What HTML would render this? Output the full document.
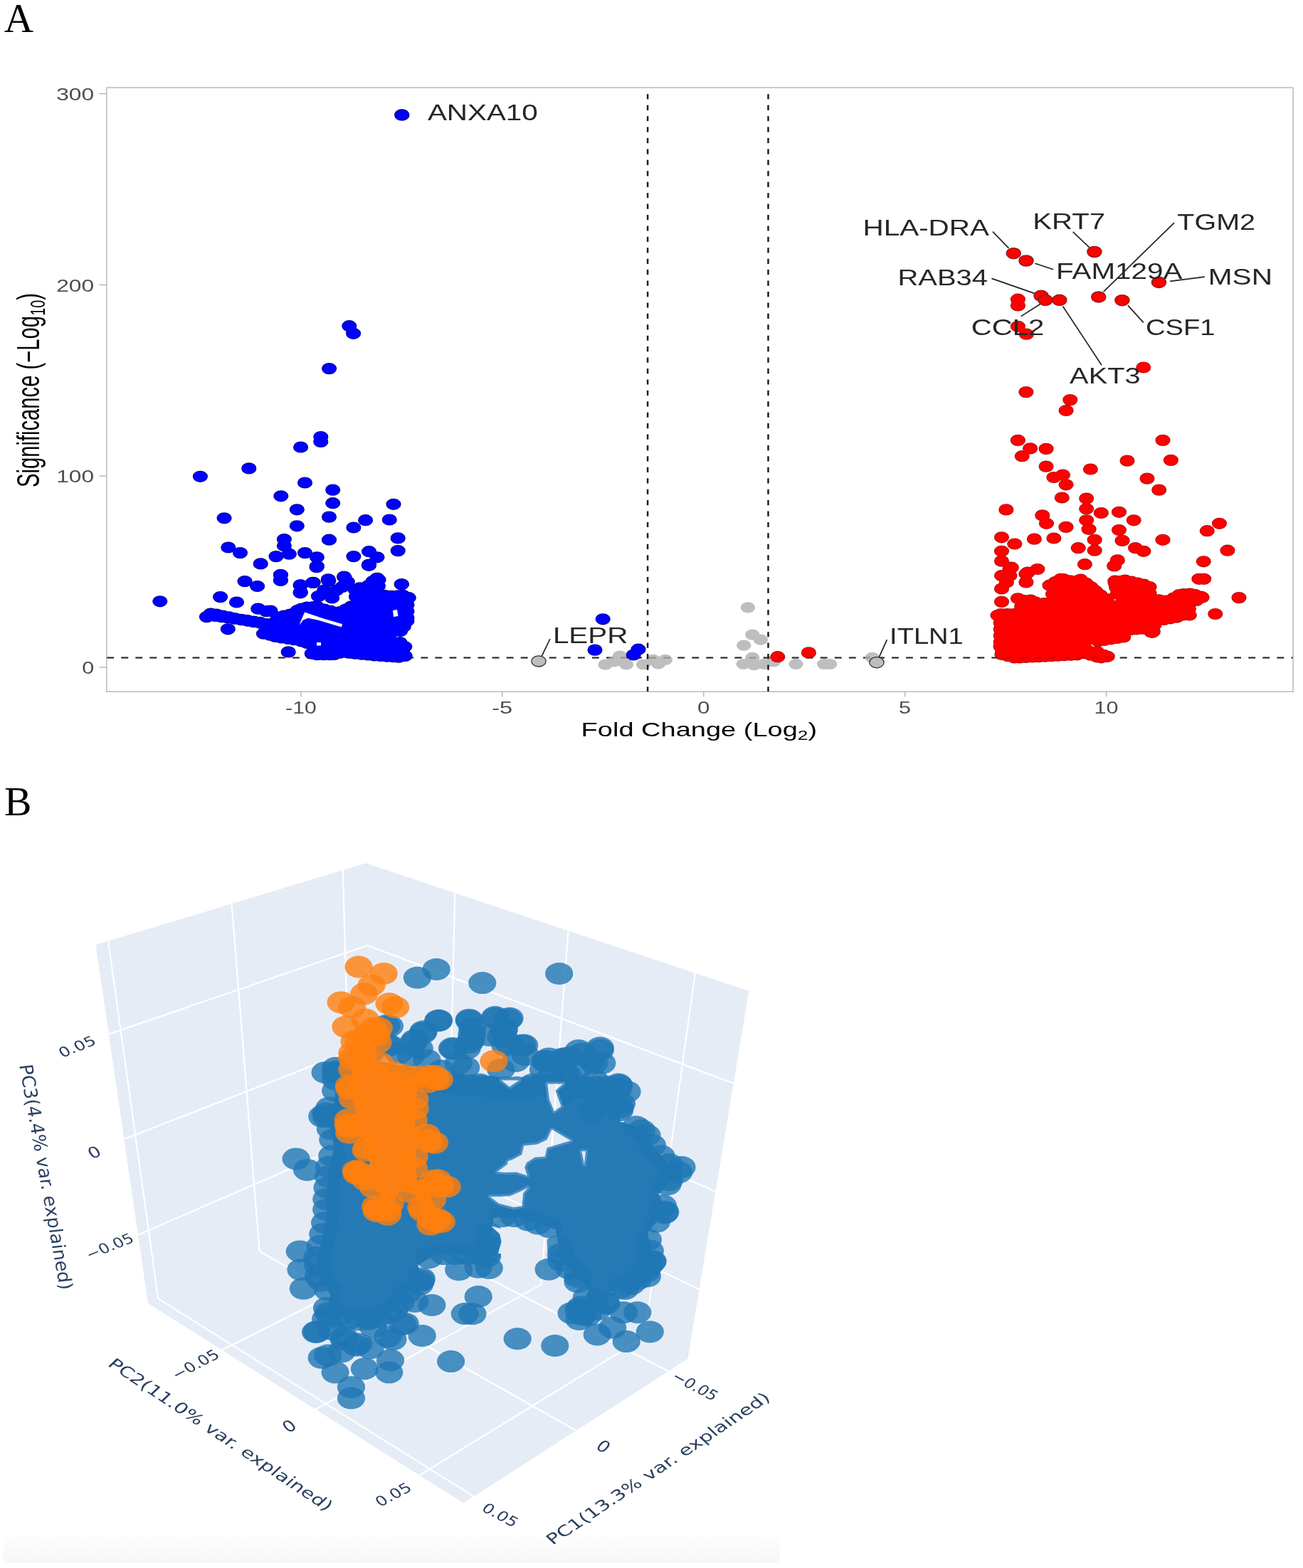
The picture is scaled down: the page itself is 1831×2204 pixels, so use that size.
<!DOCTYPE html>
<html><head><meta charset="utf-8"><title>Figure</title>
<style>html,body{margin:0;padding:0;background:#fff;}svg{display:block;}</style>
</head><body>
<svg width="1831" height="2204" viewBox="0 0 1831 2204">
<rect width="1831" height="2204" fill="#fff"/>
<text x="5.8" y="45.3" font-family="Liberation Serif" font-size="57.3" fill="#000">A</text>
<rect x="149.8" y="123.2" width="1667.3" height="849" fill="none" stroke="#b5b5b5" stroke-width="1.4"/>
<line x1="139.5" y1="131.6" x2="149.8" y2="131.6" stroke="#b5b5b5" stroke-width="1.4"/>
<text x="132.2" y="140.8" font-family="Liberation Sans" font-size="24.4" fill="#4d4d4d" text-anchor="end" textLength="53" lengthAdjust="spacingAndGlyphs">300</text>
<line x1="139.5" y1="400.4" x2="149.8" y2="400.4" stroke="#b5b5b5" stroke-width="1.4"/>
<text x="132.2" y="409.6" font-family="Liberation Sans" font-size="24.4" fill="#4d4d4d" text-anchor="end" textLength="53" lengthAdjust="spacingAndGlyphs">200</text>
<line x1="139.5" y1="669.2" x2="149.8" y2="669.2" stroke="#b5b5b5" stroke-width="1.4"/>
<text x="132.2" y="678.4" font-family="Liberation Sans" font-size="24.4" fill="#4d4d4d" text-anchor="end" textLength="53" lengthAdjust="spacingAndGlyphs">100</text>
<line x1="139.5" y1="938" x2="149.8" y2="938" stroke="#b5b5b5" stroke-width="1.4"/>
<text x="132.2" y="947.2" font-family="Liberation Sans" font-size="24.4" fill="#4d4d4d" text-anchor="end" textLength="17" lengthAdjust="spacingAndGlyphs">0</text>
<line x1="423" y1="972.2" x2="423" y2="979.5" stroke="#b5b5b5" stroke-width="1.4"/>
<text x="423" y="1002.6" font-family="Liberation Sans" font-size="24.4" fill="#4d4d4d" text-anchor="middle" textLength="43.5" lengthAdjust="spacingAndGlyphs">-10</text>
<line x1="705.7" y1="972.2" x2="705.7" y2="979.5" stroke="#b5b5b5" stroke-width="1.4"/>
<text x="705.7" y="1002.6" font-family="Liberation Sans" font-size="24.4" fill="#4d4d4d" text-anchor="middle" textLength="29" lengthAdjust="spacingAndGlyphs">-5</text>
<line x1="988.8" y1="972.2" x2="988.8" y2="979.5" stroke="#b5b5b5" stroke-width="1.4"/>
<text x="988.8" y="1002.6" font-family="Liberation Sans" font-size="24.4" fill="#4d4d4d" text-anchor="middle" textLength="17.5" lengthAdjust="spacingAndGlyphs">0</text>
<line x1="1271.6" y1="972.2" x2="1271.6" y2="979.5" stroke="#b5b5b5" stroke-width="1.4"/>
<text x="1271.6" y="1002.6" font-family="Liberation Sans" font-size="24.4" fill="#4d4d4d" text-anchor="middle" textLength="17" lengthAdjust="spacingAndGlyphs">5</text>
<line x1="1554.6" y1="972.2" x2="1554.6" y2="979.5" stroke="#b5b5b5" stroke-width="1.4"/>
<text x="1554.6" y="1002.6" font-family="Liberation Sans" font-size="24.4" fill="#4d4d4d" text-anchor="middle" textLength="34" lengthAdjust="spacingAndGlyphs">10</text>
<text x="816.6" y="1035.4" font-family="Liberation Sans" font-size="27.5" fill="#000" textLength="331.5" lengthAdjust="spacingAndGlyphs">Fold Change (Log<tspan font-size="19" dy="5">2</tspan><tspan dy="-5">)</tspan></text>
<g transform="translate(54.7,548.6) scale(1.407,1) rotate(-90)"><text x="0" y="0" font-family="Liberation Sans" font-size="31" fill="#000" text-anchor="middle" textLength="273" lengthAdjust="spacingAndGlyphs">Significance (−Log<tspan font-size="21" dy="6">10</tspan><tspan dy="-6">)</tspan></text></g>
<line x1="150.3" y1="924.5" x2="1816.6" y2="924.5" stroke="#262626" stroke-width="2.1" stroke-dasharray="9.8 10.25"/>
<g fill="#bebebe"><ellipse cx="862.7" cy="930" rx="10.2" ry="7.6"/><ellipse cx="850.6" cy="934.2" rx="10.2" ry="7.6"/><ellipse cx="871" cy="922" rx="10.2" ry="7.6"/><ellipse cx="917.7" cy="927.4" rx="10.2" ry="7.6"/><ellipse cx="934.9" cy="927.4" rx="10.2" ry="7.6"/><ellipse cx="904" cy="934" rx="10.2" ry="7.6"/><ellipse cx="925" cy="933" rx="10.2" ry="7.6"/><ellipse cx="880" cy="934" rx="10.2" ry="7.6"/><ellipse cx="1050.9" cy="853.9" rx="10.2" ry="7.6"/><ellipse cx="1057.3" cy="892.2" rx="10.2" ry="7.6"/><ellipse cx="1068.8" cy="899.1" rx="10.2" ry="7.6"/><ellipse cx="1045.2" cy="907.1" rx="10.2" ry="7.6"/><ellipse cx="1057.3" cy="924.3" rx="10.2" ry="7.6"/><ellipse cx="1044.7" cy="933.5" rx="10.2" ry="7.6"/><ellipse cx="1059.6" cy="934.6" rx="10.2" ry="7.6"/><ellipse cx="1073.4" cy="933.5" rx="10.2" ry="7.6"/><ellipse cx="1087.1" cy="930" rx="10.2" ry="7.6"/><ellipse cx="1118.5" cy="933.5" rx="10.2" ry="7.6"/><ellipse cx="1158.2" cy="933.5" rx="10.2" ry="7.6"/><ellipse cx="1166.2" cy="933.5" rx="10.2" ry="7.6"/><ellipse cx="1225.8" cy="924.3" rx="10.2" ry="7.6"/></g>
<g fill="none" stroke="#00007a" stroke-width="1.6"><ellipse cx="490.8" cy="458.2" rx="9.8" ry="7.3"/><ellipse cx="496.6" cy="468.8" rx="9.8" ry="7.3"/><ellipse cx="462.6" cy="518.1" rx="9.8" ry="7.3"/><ellipse cx="450.8" cy="614" rx="9.8" ry="7.3"/><ellipse cx="450.8" cy="621" rx="9.8" ry="7.3"/><ellipse cx="422.6" cy="628.5" rx="9.8" ry="7.3"/><ellipse cx="349.8" cy="658.4" rx="9.8" ry="7.3"/><ellipse cx="281.4" cy="669.8" rx="9.8" ry="7.3"/><ellipse cx="428.5" cy="678.5" rx="9.8" ry="7.3"/><ellipse cx="467.7" cy="688.6" rx="9.8" ry="7.3"/><ellipse cx="394.8" cy="697.3" rx="9.8" ry="7.3"/><ellipse cx="467.7" cy="707.2" rx="9.8" ry="7.3"/><ellipse cx="553" cy="708.8" rx="9.8" ry="7.3"/><ellipse cx="417.3" cy="716.3" rx="9.8" ry="7.3"/><ellipse cx="315.1" cy="728.3" rx="9.8" ry="7.3"/><ellipse cx="462.5" cy="726.6" rx="9.8" ry="7.3"/><ellipse cx="513.6" cy="731.2" rx="9.8" ry="7.3"/><ellipse cx="547.3" cy="730.5" rx="9.8" ry="7.3"/><ellipse cx="496.9" cy="741.5" rx="9.8" ry="7.3"/><ellipse cx="417.3" cy="739.3" rx="9.8" ry="7.3"/><ellipse cx="399.4" cy="758" rx="9.8" ry="7.3"/><ellipse cx="462.5" cy="758.7" rx="9.8" ry="7.3"/><ellipse cx="559.2" cy="756.4" rx="9.8" ry="7.3"/><ellipse cx="320.8" cy="769.5" rx="9.8" ry="7.3"/><ellipse cx="337.5" cy="777.1" rx="9.8" ry="7.3"/><ellipse cx="399.4" cy="767.2" rx="9.8" ry="7.3"/><ellipse cx="406.3" cy="778.7" rx="9.8" ry="7.3"/><ellipse cx="388" cy="782.1" rx="9.8" ry="7.3"/><ellipse cx="428.5" cy="777.1" rx="9.8" ry="7.3"/><ellipse cx="445.3" cy="783.3" rx="9.8" ry="7.3"/><ellipse cx="496.9" cy="782.1" rx="9.8" ry="7.3"/><ellipse cx="518.6" cy="775.2" rx="9.8" ry="7.3"/><ellipse cx="530" cy="783.3" rx="9.8" ry="7.3"/><ellipse cx="559.2" cy="774.1" rx="9.8" ry="7.3"/><ellipse cx="366.2" cy="792.4" rx="9.8" ry="7.3"/><ellipse cx="445.3" cy="795.9" rx="9.8" ry="7.3"/><ellipse cx="518.6" cy="793.6" rx="9.8" ry="7.3"/><ellipse cx="224.8" cy="845.3" rx="9.8" ry="7.3"/><ellipse cx="309.6" cy="839.1" rx="9.8" ry="7.3"/><ellipse cx="332.5" cy="846.5" rx="9.8" ry="7.3"/><ellipse cx="344" cy="817.1" rx="9.8" ry="7.3"/><ellipse cx="361.6" cy="824" rx="9.8" ry="7.3"/><ellipse cx="394.4" cy="808" rx="9.8" ry="7.3"/><ellipse cx="394.4" cy="816" rx="9.8" ry="7.3"/><ellipse cx="422.3" cy="822.4" rx="9.8" ry="7.3"/><ellipse cx="422.3" cy="832.3" rx="9.8" ry="7.3"/><ellipse cx="439.5" cy="819" rx="9.8" ry="7.3"/><ellipse cx="461.3" cy="814.4" rx="9.8" ry="7.3"/><ellipse cx="484.2" cy="812.1" rx="9.8" ry="7.3"/><ellipse cx="530.1" cy="813.2" rx="9.8" ry="7.3"/><ellipse cx="564.5" cy="821.3" rx="9.8" ry="7.3"/><ellipse cx="362.7" cy="855.6" rx="9.8" ry="7.3"/><ellipse cx="374.2" cy="859.1" rx="9.8" ry="7.3"/><ellipse cx="320.3" cy="884.3" rx="9.8" ry="7.3"/><ellipse cx="405.2" cy="916.4" rx="9.8" ry="7.3"/><ellipse cx="461.8" cy="816.5" rx="9.8" ry="7.3"/><ellipse cx="483.5" cy="810.5" rx="9.8" ry="7.3"/><ellipse cx="447.4" cy="838.1" rx="9.8" ry="7.3"/><ellipse cx="466.6" cy="840.5" rx="9.8" ry="7.3"/><ellipse cx="481.1" cy="824.9" rx="9.8" ry="7.3"/><ellipse cx="455.8" cy="829.7" rx="9.8" ry="7.3"/><ellipse cx="472.7" cy="829.7" rx="9.8" ry="7.3"/><ellipse cx="488.3" cy="817.7" rx="9.8" ry="7.3"/><ellipse cx="422.1" cy="822.5" rx="9.8" ry="7.3"/><ellipse cx="440.2" cy="818.9" rx="9.8" ry="7.3"/><ellipse cx="422.1" cy="833.3" rx="9.8" ry="7.3"/><ellipse cx="394.4" cy="808" rx="9.8" ry="7.3"/><ellipse cx="394.4" cy="815.3" rx="9.8" ry="7.3"/><ellipse cx="445" cy="797.2" rx="9.8" ry="7.3"/><ellipse cx="518.4" cy="794.8" rx="9.8" ry="7.3"/><ellipse cx="564.1" cy="821.3" rx="9.8" ry="7.3"/><ellipse cx="380" cy="858.6" rx="9.8" ry="7.3"/><ellipse cx="847.2" cy="870.3" rx="9.8" ry="7.3"/><ellipse cx="836" cy="913.6" rx="9.8" ry="7.3"/><ellipse cx="897" cy="912.7" rx="9.8" ry="7.3"/><ellipse cx="890.2" cy="920.5" rx="9.8" ry="7.3"/><ellipse cx="290.4" cy="867.1" rx="9.8" ry="7.3"/><ellipse cx="298.8" cy="864.1" rx="9.8" ry="7.3"/><ellipse cx="304.1" cy="863.6" rx="9.8" ry="7.3"/><ellipse cx="312.9" cy="865.5" rx="9.8" ry="7.3"/><ellipse cx="321.7" cy="867.4" rx="9.8" ry="7.3"/><ellipse cx="330.5" cy="869.4" rx="9.8" ry="7.3"/><ellipse cx="339.6" cy="871.1" rx="9.8" ry="7.3"/><ellipse cx="348.5" cy="872.6" rx="9.8" ry="7.3"/><ellipse cx="357.3" cy="874.2" rx="9.8" ry="7.3"/><ellipse cx="366.2" cy="875.7" rx="9.8" ry="7.3"/><ellipse cx="375.1" cy="877.2" rx="9.8" ry="7.3"/><ellipse cx="388.8" cy="872.2" rx="9.8" ry="7.3"/><ellipse cx="390.4" cy="867.6" rx="9.8" ry="7.3"/><ellipse cx="399.1" cy="865.5" rx="9.8" ry="7.3"/><ellipse cx="407.9" cy="863.5" rx="9.8" ry="7.3"/><ellipse cx="417.9" cy="858.2" rx="9.8" ry="7.3"/><ellipse cx="423.8" cy="855.6" rx="9.8" ry="7.3"/><ellipse cx="431.5" cy="853.6" rx="9.8" ry="7.3"/><ellipse cx="440.5" cy="853" rx="9.8" ry="7.3"/><ellipse cx="446.1" cy="853" rx="9.8" ry="7.3"/><ellipse cx="455.7" cy="856.6" rx="9.8" ry="7.3"/><ellipse cx="464.5" cy="858.8" rx="9.8" ry="7.3"/><ellipse cx="476.9" cy="860.4" rx="9.8" ry="7.3"/><ellipse cx="485.8" cy="856.6" rx="9.8" ry="7.3"/><ellipse cx="493.7" cy="852.3" rx="9.8" ry="7.3"/><ellipse cx="500.5" cy="838.7" rx="9.8" ry="7.3"/><ellipse cx="500" cy="829.7" rx="9.8" ry="7.3"/><ellipse cx="499.3" cy="829.2" rx="9.8" ry="7.3"/><ellipse cx="505.6" cy="826.3" rx="9.8" ry="7.3"/><ellipse cx="517.9" cy="823.1" rx="9.8" ry="7.3"/><ellipse cx="524.3" cy="816.8" rx="9.8" ry="7.3"/><ellipse cx="529.9" cy="812.9" rx="9.8" ry="7.3"/><ellipse cx="529.8" cy="814.2" rx="9.8" ry="7.3"/><ellipse cx="532.1" cy="815" rx="9.8" ry="7.3"/><ellipse cx="531.4" cy="823.9" rx="9.8" ry="7.3"/><ellipse cx="540.8" cy="837" rx="9.8" ry="7.3"/><ellipse cx="549.8" cy="837.9" rx="9.8" ry="7.3"/><ellipse cx="559.7" cy="837.3" rx="9.8" ry="7.3"/><ellipse cx="566" cy="836.8" rx="9.8" ry="7.3"/><ellipse cx="574.3" cy="840.2" rx="9.8" ry="7.3"/><ellipse cx="572" cy="841.3" rx="9.8" ry="7.3"/><ellipse cx="572" cy="850.3" rx="9.8" ry="7.3"/><ellipse cx="572" cy="859.3" rx="9.8" ry="7.3"/><ellipse cx="572" cy="868.3" rx="9.8" ry="7.3"/><ellipse cx="571.9" cy="873" rx="9.8" ry="7.3"/><ellipse cx="567.3" cy="880.7" rx="9.8" ry="7.3"/><ellipse cx="562.6" cy="886.9" rx="9.8" ry="7.3"/><ellipse cx="562" cy="903.1" rx="9.8" ry="7.3"/><ellipse cx="568.8" cy="909" rx="9.8" ry="7.3"/><ellipse cx="565.9" cy="912.7" rx="9.8" ry="7.3"/><ellipse cx="565.9" cy="921.7" rx="9.8" ry="7.3"/><ellipse cx="569.2" cy="922" rx="9.8" ry="7.3"/><ellipse cx="560.3" cy="923.6" rx="9.8" ry="7.3"/><ellipse cx="552.8" cy="923.2" rx="9.8" ry="7.3"/><ellipse cx="543.8" cy="922.6" rx="9.8" ry="7.3"/><ellipse cx="534.8" cy="922" rx="9.8" ry="7.3"/><ellipse cx="525.9" cy="921.4" rx="9.8" ry="7.3"/><ellipse cx="517.1" cy="920.5" rx="9.8" ry="7.3"/><ellipse cx="508.2" cy="919.6" rx="9.8" ry="7.3"/><ellipse cx="499.2" cy="918.7" rx="9.8" ry="7.3"/><ellipse cx="490.3" cy="917.7" rx="9.8" ry="7.3"/><ellipse cx="481.3" cy="916.8" rx="9.8" ry="7.3"/><ellipse cx="469.6" cy="919.9" rx="9.8" ry="7.3"/><ellipse cx="463.6" cy="920.2" rx="9.8" ry="7.3"/><ellipse cx="454.6" cy="920.2" rx="9.8" ry="7.3"/><ellipse cx="445.6" cy="920.2" rx="9.8" ry="7.3"/><ellipse cx="441.4" cy="917.2" rx="9.8" ry="7.3"/><ellipse cx="438.2" cy="918.6" rx="9.8" ry="7.3"/><ellipse cx="431.7" cy="904" rx="9.8" ry="7.3"/><ellipse cx="423.1" cy="901.3" rx="9.8" ry="7.3"/><ellipse cx="413.4" cy="899.1" rx="9.8" ry="7.3"/><ellipse cx="404.5" cy="897.8" rx="9.8" ry="7.3"/><ellipse cx="395.6" cy="896.5" rx="9.8" ry="7.3"/><ellipse cx="387.1" cy="894.9" rx="9.8" ry="7.3"/><ellipse cx="379.8" cy="892.6" rx="9.8" ry="7.3"/><ellipse cx="372.7" cy="888.5" rx="9.8" ry="7.3"/><ellipse cx="370.5" cy="890.7" rx="9.8" ry="7.3"/><ellipse cx="365.1" cy="874.9" rx="9.8" ry="7.3"/><ellipse cx="356.2" cy="873.6" rx="9.8" ry="7.3"/><ellipse cx="347.3" cy="872.2" rx="9.8" ry="7.3"/><ellipse cx="338.4" cy="870.8" rx="9.8" ry="7.3"/><ellipse cx="329.4" cy="869.6" rx="9.8" ry="7.3"/><ellipse cx="320.5" cy="868.4" rx="9.8" ry="7.3"/><ellipse cx="311.5" cy="867.2" rx="9.8" ry="7.3"/><ellipse cx="302.6" cy="866" rx="9.8" ry="7.3"/><ellipse cx="296.1" cy="862.7" rx="9.8" ry="7.3"/><ellipse cx="296.1" cy="862.8" rx="9.8" ry="7.3"/></g>
<g fill="#0000ff"><polygon points="294.2,865.6 301.3,862.6 336.4,870.6 382.3,877.7 390.8,867.6 410.3,863.1 418.7,857.1 431.4,853.6 446.2,852.4 452.5,855.9 474.3,860.8 482.6,858.3 499.6,849 498.4,829.6 502.4,827 515.4,824.5 524.7,815.8 529.7,811.4 533,817 533.4,835.5 550.8,837.9 566.8,836.7 573.8,839.8 572.4,872.1 566.7,882 556.3,896.4 566.8,907.4 568.3,922.7 560.2,923.8 524.9,921.4 477.6,916.6 470.1,920.2 444.4,920.2 437.5,914.6 437.9,906.4 417.4,899.7 393,896.1 381.8,893.7 377.1,891.3 369.7,887.1 371.1,876.9 336,870.5 302.6,865.9 294.4,862"/><ellipse cx="490.8" cy="458.2" rx="9.8" ry="7.3"/><ellipse cx="496.6" cy="468.8" rx="9.8" ry="7.3"/><ellipse cx="462.6" cy="518.1" rx="9.8" ry="7.3"/><ellipse cx="450.8" cy="614" rx="9.8" ry="7.3"/><ellipse cx="450.8" cy="621" rx="9.8" ry="7.3"/><ellipse cx="422.6" cy="628.5" rx="9.8" ry="7.3"/><ellipse cx="349.8" cy="658.4" rx="9.8" ry="7.3"/><ellipse cx="281.4" cy="669.8" rx="9.8" ry="7.3"/><ellipse cx="428.5" cy="678.5" rx="9.8" ry="7.3"/><ellipse cx="467.7" cy="688.6" rx="9.8" ry="7.3"/><ellipse cx="394.8" cy="697.3" rx="9.8" ry="7.3"/><ellipse cx="467.7" cy="707.2" rx="9.8" ry="7.3"/><ellipse cx="553" cy="708.8" rx="9.8" ry="7.3"/><ellipse cx="417.3" cy="716.3" rx="9.8" ry="7.3"/><ellipse cx="315.1" cy="728.3" rx="9.8" ry="7.3"/><ellipse cx="462.5" cy="726.6" rx="9.8" ry="7.3"/><ellipse cx="513.6" cy="731.2" rx="9.8" ry="7.3"/><ellipse cx="547.3" cy="730.5" rx="9.8" ry="7.3"/><ellipse cx="496.9" cy="741.5" rx="9.8" ry="7.3"/><ellipse cx="417.3" cy="739.3" rx="9.8" ry="7.3"/><ellipse cx="399.4" cy="758" rx="9.8" ry="7.3"/><ellipse cx="462.5" cy="758.7" rx="9.8" ry="7.3"/><ellipse cx="559.2" cy="756.4" rx="9.8" ry="7.3"/><ellipse cx="320.8" cy="769.5" rx="9.8" ry="7.3"/><ellipse cx="337.5" cy="777.1" rx="9.8" ry="7.3"/><ellipse cx="399.4" cy="767.2" rx="9.8" ry="7.3"/><ellipse cx="406.3" cy="778.7" rx="9.8" ry="7.3"/><ellipse cx="388" cy="782.1" rx="9.8" ry="7.3"/><ellipse cx="428.5" cy="777.1" rx="9.8" ry="7.3"/><ellipse cx="445.3" cy="783.3" rx="9.8" ry="7.3"/><ellipse cx="496.9" cy="782.1" rx="9.8" ry="7.3"/><ellipse cx="518.6" cy="775.2" rx="9.8" ry="7.3"/><ellipse cx="530" cy="783.3" rx="9.8" ry="7.3"/><ellipse cx="559.2" cy="774.1" rx="9.8" ry="7.3"/><ellipse cx="366.2" cy="792.4" rx="9.8" ry="7.3"/><ellipse cx="445.3" cy="795.9" rx="9.8" ry="7.3"/><ellipse cx="518.6" cy="793.6" rx="9.8" ry="7.3"/><ellipse cx="224.8" cy="845.3" rx="9.8" ry="7.3"/><ellipse cx="309.6" cy="839.1" rx="9.8" ry="7.3"/><ellipse cx="332.5" cy="846.5" rx="9.8" ry="7.3"/><ellipse cx="344" cy="817.1" rx="9.8" ry="7.3"/><ellipse cx="361.6" cy="824" rx="9.8" ry="7.3"/><ellipse cx="394.4" cy="808" rx="9.8" ry="7.3"/><ellipse cx="394.4" cy="816" rx="9.8" ry="7.3"/><ellipse cx="422.3" cy="822.4" rx="9.8" ry="7.3"/><ellipse cx="422.3" cy="832.3" rx="9.8" ry="7.3"/><ellipse cx="439.5" cy="819" rx="9.8" ry="7.3"/><ellipse cx="461.3" cy="814.4" rx="9.8" ry="7.3"/><ellipse cx="484.2" cy="812.1" rx="9.8" ry="7.3"/><ellipse cx="530.1" cy="813.2" rx="9.8" ry="7.3"/><ellipse cx="564.5" cy="821.3" rx="9.8" ry="7.3"/><ellipse cx="362.7" cy="855.6" rx="9.8" ry="7.3"/><ellipse cx="374.2" cy="859.1" rx="9.8" ry="7.3"/><ellipse cx="320.3" cy="884.3" rx="9.8" ry="7.3"/><ellipse cx="405.2" cy="916.4" rx="9.8" ry="7.3"/><ellipse cx="461.8" cy="816.5" rx="9.8" ry="7.3"/><ellipse cx="483.5" cy="810.5" rx="9.8" ry="7.3"/><ellipse cx="447.4" cy="838.1" rx="9.8" ry="7.3"/><ellipse cx="466.6" cy="840.5" rx="9.8" ry="7.3"/><ellipse cx="481.1" cy="824.9" rx="9.8" ry="7.3"/><ellipse cx="455.8" cy="829.7" rx="9.8" ry="7.3"/><ellipse cx="472.7" cy="829.7" rx="9.8" ry="7.3"/><ellipse cx="488.3" cy="817.7" rx="9.8" ry="7.3"/><ellipse cx="422.1" cy="822.5" rx="9.8" ry="7.3"/><ellipse cx="440.2" cy="818.9" rx="9.8" ry="7.3"/><ellipse cx="422.1" cy="833.3" rx="9.8" ry="7.3"/><ellipse cx="394.4" cy="808" rx="9.8" ry="7.3"/><ellipse cx="394.4" cy="815.3" rx="9.8" ry="7.3"/><ellipse cx="445" cy="797.2" rx="9.8" ry="7.3"/><ellipse cx="518.4" cy="794.8" rx="9.8" ry="7.3"/><ellipse cx="564.1" cy="821.3" rx="9.8" ry="7.3"/><ellipse cx="380" cy="858.6" rx="9.8" ry="7.3"/><ellipse cx="847.2" cy="870.3" rx="9.8" ry="7.3"/><ellipse cx="836" cy="913.6" rx="9.8" ry="7.3"/><ellipse cx="897" cy="912.7" rx="9.8" ry="7.3"/><ellipse cx="890.2" cy="920.5" rx="9.8" ry="7.3"/><ellipse cx="290.4" cy="867.1" rx="9.8" ry="7.3"/><ellipse cx="298.8" cy="864.1" rx="9.8" ry="7.3"/><ellipse cx="304.1" cy="863.6" rx="9.8" ry="7.3"/><ellipse cx="312.9" cy="865.5" rx="9.8" ry="7.3"/><ellipse cx="321.7" cy="867.4" rx="9.8" ry="7.3"/><ellipse cx="330.5" cy="869.4" rx="9.8" ry="7.3"/><ellipse cx="339.6" cy="871.1" rx="9.8" ry="7.3"/><ellipse cx="348.5" cy="872.6" rx="9.8" ry="7.3"/><ellipse cx="357.3" cy="874.2" rx="9.8" ry="7.3"/><ellipse cx="366.2" cy="875.7" rx="9.8" ry="7.3"/><ellipse cx="375.1" cy="877.2" rx="9.8" ry="7.3"/><ellipse cx="388.8" cy="872.2" rx="9.8" ry="7.3"/><ellipse cx="390.4" cy="867.6" rx="9.8" ry="7.3"/><ellipse cx="399.1" cy="865.5" rx="9.8" ry="7.3"/><ellipse cx="407.9" cy="863.5" rx="9.8" ry="7.3"/><ellipse cx="417.9" cy="858.2" rx="9.8" ry="7.3"/><ellipse cx="423.8" cy="855.6" rx="9.8" ry="7.3"/><ellipse cx="431.5" cy="853.6" rx="9.8" ry="7.3"/><ellipse cx="440.5" cy="853" rx="9.8" ry="7.3"/><ellipse cx="446.1" cy="853" rx="9.8" ry="7.3"/><ellipse cx="455.7" cy="856.6" rx="9.8" ry="7.3"/><ellipse cx="464.5" cy="858.8" rx="9.8" ry="7.3"/><ellipse cx="476.9" cy="860.4" rx="9.8" ry="7.3"/><ellipse cx="485.8" cy="856.6" rx="9.8" ry="7.3"/><ellipse cx="493.7" cy="852.3" rx="9.8" ry="7.3"/><ellipse cx="500.5" cy="838.7" rx="9.8" ry="7.3"/><ellipse cx="500" cy="829.7" rx="9.8" ry="7.3"/><ellipse cx="499.3" cy="829.2" rx="9.8" ry="7.3"/><ellipse cx="505.6" cy="826.3" rx="9.8" ry="7.3"/><ellipse cx="517.9" cy="823.1" rx="9.8" ry="7.3"/><ellipse cx="524.3" cy="816.8" rx="9.8" ry="7.3"/><ellipse cx="529.9" cy="812.9" rx="9.8" ry="7.3"/><ellipse cx="529.8" cy="814.2" rx="9.8" ry="7.3"/><ellipse cx="532.1" cy="815" rx="9.8" ry="7.3"/><ellipse cx="531.4" cy="823.9" rx="9.8" ry="7.3"/><ellipse cx="540.8" cy="837" rx="9.8" ry="7.3"/><ellipse cx="549.8" cy="837.9" rx="9.8" ry="7.3"/><ellipse cx="559.7" cy="837.3" rx="9.8" ry="7.3"/><ellipse cx="566" cy="836.8" rx="9.8" ry="7.3"/><ellipse cx="574.3" cy="840.2" rx="9.8" ry="7.3"/><ellipse cx="572" cy="841.3" rx="9.8" ry="7.3"/><ellipse cx="572" cy="850.3" rx="9.8" ry="7.3"/><ellipse cx="572" cy="859.3" rx="9.8" ry="7.3"/><ellipse cx="572" cy="868.3" rx="9.8" ry="7.3"/><ellipse cx="571.9" cy="873" rx="9.8" ry="7.3"/><ellipse cx="567.3" cy="880.7" rx="9.8" ry="7.3"/><ellipse cx="562.6" cy="886.9" rx="9.8" ry="7.3"/><ellipse cx="562" cy="903.1" rx="9.8" ry="7.3"/><ellipse cx="568.8" cy="909" rx="9.8" ry="7.3"/><ellipse cx="565.9" cy="912.7" rx="9.8" ry="7.3"/><ellipse cx="565.9" cy="921.7" rx="9.8" ry="7.3"/><ellipse cx="569.2" cy="922" rx="9.8" ry="7.3"/><ellipse cx="560.3" cy="923.6" rx="9.8" ry="7.3"/><ellipse cx="552.8" cy="923.2" rx="9.8" ry="7.3"/><ellipse cx="543.8" cy="922.6" rx="9.8" ry="7.3"/><ellipse cx="534.8" cy="922" rx="9.8" ry="7.3"/><ellipse cx="525.9" cy="921.4" rx="9.8" ry="7.3"/><ellipse cx="517.1" cy="920.5" rx="9.8" ry="7.3"/><ellipse cx="508.2" cy="919.6" rx="9.8" ry="7.3"/><ellipse cx="499.2" cy="918.7" rx="9.8" ry="7.3"/><ellipse cx="490.3" cy="917.7" rx="9.8" ry="7.3"/><ellipse cx="481.3" cy="916.8" rx="9.8" ry="7.3"/><ellipse cx="469.6" cy="919.9" rx="9.8" ry="7.3"/><ellipse cx="463.6" cy="920.2" rx="9.8" ry="7.3"/><ellipse cx="454.6" cy="920.2" rx="9.8" ry="7.3"/><ellipse cx="445.6" cy="920.2" rx="9.8" ry="7.3"/><ellipse cx="441.4" cy="917.2" rx="9.8" ry="7.3"/><ellipse cx="438.2" cy="918.6" rx="9.8" ry="7.3"/><ellipse cx="431.7" cy="904" rx="9.8" ry="7.3"/><ellipse cx="423.1" cy="901.3" rx="9.8" ry="7.3"/><ellipse cx="413.4" cy="899.1" rx="9.8" ry="7.3"/><ellipse cx="404.5" cy="897.8" rx="9.8" ry="7.3"/><ellipse cx="395.6" cy="896.5" rx="9.8" ry="7.3"/><ellipse cx="387.1" cy="894.9" rx="9.8" ry="7.3"/><ellipse cx="379.8" cy="892.6" rx="9.8" ry="7.3"/><ellipse cx="372.7" cy="888.5" rx="9.8" ry="7.3"/><ellipse cx="370.5" cy="890.7" rx="9.8" ry="7.3"/><ellipse cx="365.1" cy="874.9" rx="9.8" ry="7.3"/><ellipse cx="356.2" cy="873.6" rx="9.8" ry="7.3"/><ellipse cx="347.3" cy="872.2" rx="9.8" ry="7.3"/><ellipse cx="338.4" cy="870.8" rx="9.8" ry="7.3"/><ellipse cx="329.4" cy="869.6" rx="9.8" ry="7.3"/><ellipse cx="320.5" cy="868.4" rx="9.8" ry="7.3"/><ellipse cx="311.5" cy="867.2" rx="9.8" ry="7.3"/><ellipse cx="302.6" cy="866" rx="9.8" ry="7.3"/><ellipse cx="296.1" cy="862.7" rx="9.8" ry="7.3"/><ellipse cx="296.1" cy="862.8" rx="9.8" ry="7.3"/></g>
<g fill="#fff"><polygon points="428.1,860.4 454.6,869.4 481.1,877.2 479.9,881.5 447.4,871.8 432.9,868.8 425.7,871.8 420.9,878.4 422.1,874.2"/><polygon points="445,903 451,903 451,907.5 445,907.5"/><polygon points="552,858 558,857 559.5,866 553,867"/></g>
<g fill="none" stroke="#a01010" stroke-width="1.6"><ellipse cx="1430.4" cy="420.7" rx="9.8" ry="7.3"/><ellipse cx="1430.4" cy="429.4" rx="9.8" ry="7.3"/><ellipse cx="1430.4" cy="458.8" rx="9.8" ry="7.3"/><ellipse cx="1442.4" cy="469.7" rx="9.8" ry="7.3"/><ellipse cx="1606.8" cy="516.5" rx="9.8" ry="7.3"/><ellipse cx="1441.9" cy="551.1" rx="9.8" ry="7.3"/><ellipse cx="1503.8" cy="562.1" rx="9.8" ry="7.3"/><ellipse cx="1498.1" cy="577" rx="9.8" ry="7.3"/><ellipse cx="1430.4" cy="618.9" rx="9.8" ry="7.3"/><ellipse cx="1447.6" cy="630.4" rx="9.8" ry="7.3"/><ellipse cx="1470.1" cy="630.9" rx="9.8" ry="7.3"/><ellipse cx="1436.2" cy="641.2" rx="9.8" ry="7.3"/><ellipse cx="1470.1" cy="655.6" rx="9.8" ry="7.3"/><ellipse cx="1480.9" cy="671" rx="9.8" ry="7.3"/><ellipse cx="1493.5" cy="667.5" rx="9.8" ry="7.3"/><ellipse cx="1498.1" cy="681.3" rx="9.8" ry="7.3"/><ellipse cx="1532.4" cy="659.5" rx="9.8" ry="7.3"/><ellipse cx="1584" cy="647.6" rx="9.8" ry="7.3"/><ellipse cx="1634" cy="618.9" rx="9.8" ry="7.3"/><ellipse cx="1645.4" cy="646.9" rx="9.8" ry="7.3"/><ellipse cx="1612" cy="672.6" rx="9.8" ry="7.3"/><ellipse cx="1628.7" cy="688.6" rx="9.8" ry="7.3"/><ellipse cx="1492.3" cy="699.5" rx="9.8" ry="7.3"/><ellipse cx="1526.7" cy="700.6" rx="9.8" ry="7.3"/><ellipse cx="1413.9" cy="716.4" rx="9.8" ry="7.3"/><ellipse cx="1526.7" cy="715.2" rx="9.8" ry="7.3"/><ellipse cx="1547.3" cy="721" rx="9.8" ry="7.3"/><ellipse cx="1572.5" cy="719.8" rx="9.8" ry="7.3"/><ellipse cx="1593.2" cy="731.3" rx="9.8" ry="7.3"/><ellipse cx="1464.8" cy="724.4" rx="9.8" ry="7.3"/><ellipse cx="1470.5" cy="735.8" rx="9.8" ry="7.3"/><ellipse cx="1498" cy="740.9" rx="9.8" ry="7.3"/><ellipse cx="1526.7" cy="731.3" rx="9.8" ry="7.3"/><ellipse cx="1530.1" cy="743.9" rx="9.8" ry="7.3"/><ellipse cx="1572.5" cy="745" rx="9.8" ry="7.3"/><ellipse cx="1713.5" cy="735.8" rx="9.8" ry="7.3"/><ellipse cx="1696.3" cy="746.2" rx="9.8" ry="7.3"/><ellipse cx="1407.5" cy="755.3" rx="9.8" ry="7.3"/><ellipse cx="1425.8" cy="764.5" rx="9.8" ry="7.3"/><ellipse cx="1453.4" cy="757.6" rx="9.8" ry="7.3"/><ellipse cx="1480.9" cy="756.5" rx="9.8" ry="7.3"/><ellipse cx="1538.2" cy="758.8" rx="9.8" ry="7.3"/><ellipse cx="1577.1" cy="759.9" rx="9.8" ry="7.3"/><ellipse cx="1634" cy="758.8" rx="9.8" ry="7.3"/><ellipse cx="1595.5" cy="770.2" rx="9.8" ry="7.3"/><ellipse cx="1606.9" cy="774.8" rx="9.8" ry="7.3"/><ellipse cx="1515.2" cy="770.2" rx="9.8" ry="7.3"/><ellipse cx="1538.2" cy="773.7" rx="9.8" ry="7.3"/><ellipse cx="1725" cy="773.7" rx="9.8" ry="7.3"/><ellipse cx="1407.5" cy="774.8" rx="9.8" ry="7.3"/><ellipse cx="1407.5" cy="788.6" rx="9.8" ry="7.3"/><ellipse cx="1570.3" cy="787.4" rx="9.8" ry="7.3"/><ellipse cx="1565.7" cy="795.4" rx="9.8" ry="7.3"/><ellipse cx="1524.4" cy="793.2" rx="9.8" ry="7.3"/><ellipse cx="1691.3" cy="789.3" rx="9.8" ry="7.3"/><ellipse cx="1419" cy="800" rx="9.8" ry="7.3"/><ellipse cx="1457.9" cy="800" rx="9.8" ry="7.3"/><ellipse cx="1441.9" cy="806.9" rx="9.8" ry="7.3"/><ellipse cx="1684.9" cy="813.8" rx="9.8" ry="7.3"/><ellipse cx="1691.7" cy="813.8" rx="9.8" ry="7.3"/><ellipse cx="1741" cy="840.1" rx="9.8" ry="7.3"/><ellipse cx="1707.8" cy="863" rx="9.8" ry="7.3"/><ellipse cx="1618.4" cy="888.3" rx="9.8" ry="7.3"/><ellipse cx="1549.6" cy="921.5" rx="9.8" ry="7.3"/><ellipse cx="1092.8" cy="923.2" rx="9.8" ry="7.3"/><ellipse cx="1136.4" cy="917.4" rx="9.8" ry="7.3"/><ellipse cx="1407.5" cy="809.2" rx="9.8" ry="7.3"/><ellipse cx="1414.4" cy="818.4" rx="9.8" ry="7.3"/><ellipse cx="1407.5" cy="827.5" rx="9.8" ry="7.3"/><ellipse cx="1407.5" cy="845.9" rx="9.8" ry="7.3"/><ellipse cx="1421.3" cy="797.7" rx="9.8" ry="7.3"/><ellipse cx="1419" cy="809.2" rx="9.8" ry="7.3"/><ellipse cx="1444.2" cy="804.6" rx="9.8" ry="7.3"/><ellipse cx="1441.9" cy="818.4" rx="9.8" ry="7.3"/><ellipse cx="1430.4" cy="841.3" rx="9.8" ry="7.3"/><ellipse cx="1448.8" cy="845.9" rx="9.8" ry="7.3"/><ellipse cx="1467.1" cy="848.2" rx="9.8" ry="7.3"/><ellipse cx="1402" cy="865" rx="9.8" ry="7.3"/><ellipse cx="1406.6" cy="863.1" rx="9.8" ry="7.3"/><ellipse cx="1415.6" cy="863.1" rx="9.8" ry="7.3"/><ellipse cx="1424.6" cy="863.1" rx="9.8" ry="7.3"/><ellipse cx="1435.7" cy="852.7" rx="9.8" ry="7.3"/><ellipse cx="1438.9" cy="844.3" rx="9.8" ry="7.3"/><ellipse cx="1439.3" cy="844.4" rx="9.8" ry="7.3"/><ellipse cx="1448.3" cy="843.7" rx="9.8" ry="7.3"/><ellipse cx="1454.4" cy="846.3" rx="9.8" ry="7.3"/><ellipse cx="1462.9" cy="849.2" rx="9.8" ry="7.3"/><ellipse cx="1479.5" cy="844" rx="9.8" ry="7.3"/><ellipse cx="1479.5" cy="835" rx="9.8" ry="7.3"/><ellipse cx="1479.5" cy="826" rx="9.8" ry="7.3"/><ellipse cx="1475" cy="822.7" rx="9.8" ry="7.3"/><ellipse cx="1482.8" cy="818.2" rx="9.8" ry="7.3"/><ellipse cx="1490.7" cy="813.8" rx="9.8" ry="7.3"/><ellipse cx="1494.5" cy="814.2" rx="9.8" ry="7.3"/><ellipse cx="1503.3" cy="816.3" rx="9.8" ry="7.3"/><ellipse cx="1514.5" cy="816.4" rx="9.8" ry="7.3"/><ellipse cx="1518.5" cy="814.7" rx="9.8" ry="7.3"/><ellipse cx="1525.9" cy="819.9" rx="9.8" ry="7.3"/><ellipse cx="1533.2" cy="825.2" rx="9.8" ry="7.3"/><ellipse cx="1539.5" cy="830.7" rx="9.8" ry="7.3"/><ellipse cx="1546.4" cy="836.6" rx="9.8" ry="7.3"/><ellipse cx="1555.4" cy="842" rx="9.8" ry="7.3"/><ellipse cx="1570.4" cy="834.3" rx="9.8" ry="7.3"/><ellipse cx="1568.6" cy="825.5" rx="9.8" ry="7.3"/><ellipse cx="1566.8" cy="816.7" rx="9.8" ry="7.3"/><ellipse cx="1567.2" cy="819.6" rx="9.8" ry="7.3"/><ellipse cx="1575.7" cy="816.8" rx="9.8" ry="7.3"/><ellipse cx="1581.1" cy="815.7" rx="9.8" ry="7.3"/><ellipse cx="1589.9" cy="817.7" rx="9.8" ry="7.3"/><ellipse cx="1598.6" cy="819.7" rx="9.8" ry="7.3"/><ellipse cx="1607.4" cy="821.7" rx="9.8" ry="7.3"/><ellipse cx="1614" cy="825.5" rx="9.8" ry="7.3"/><ellipse cx="1615.1" cy="825" rx="9.8" ry="7.3"/><ellipse cx="1615.1" cy="834" rx="9.8" ry="7.3"/><ellipse cx="1628.4" cy="843.4" rx="9.8" ry="7.3"/><ellipse cx="1637.4" cy="844.7" rx="9.8" ry="7.3"/><ellipse cx="1649.3" cy="840.5" rx="9.8" ry="7.3"/><ellipse cx="1657.1" cy="836" rx="9.8" ry="7.3"/><ellipse cx="1663.1" cy="835.2" rx="9.8" ry="7.3"/><ellipse cx="1672" cy="834.7" rx="9.8" ry="7.3"/><ellipse cx="1678.7" cy="835.9" rx="9.8" ry="7.3"/><ellipse cx="1687.3" cy="838.6" rx="9.8" ry="7.3"/><ellipse cx="1686.8" cy="839.1" rx="9.8" ry="7.3"/><ellipse cx="1689.1" cy="839.6" rx="9.8" ry="7.3"/><ellipse cx="1681.1" cy="843.9" rx="9.8" ry="7.3"/><ellipse cx="1670.4" cy="855.6" rx="9.8" ry="7.3"/><ellipse cx="1671.3" cy="864.5" rx="9.8" ry="7.3"/><ellipse cx="1669" cy="861.5" rx="9.8" ry="7.3"/><ellipse cx="1660.6" cy="864.7" rx="9.8" ry="7.3"/><ellipse cx="1653.2" cy="867.7" rx="9.8" ry="7.3"/><ellipse cx="1644.4" cy="869.3" rx="9.8" ry="7.3"/><ellipse cx="1635.5" cy="870.9" rx="9.8" ry="7.3"/><ellipse cx="1621.8" cy="878.8" rx="9.8" ry="7.3"/><ellipse cx="1620.3" cy="887.7" rx="9.8" ry="7.3"/><ellipse cx="1619.2" cy="888.8" rx="9.8" ry="7.3"/><ellipse cx="1617.4" cy="888.2" rx="9.8" ry="7.3"/><ellipse cx="1605.8" cy="883.6" rx="9.8" ry="7.3"/><ellipse cx="1596.8" cy="884.4" rx="9.8" ry="7.3"/><ellipse cx="1587.9" cy="885.2" rx="9.8" ry="7.3"/><ellipse cx="1573.9" cy="894" rx="9.8" ry="7.3"/><ellipse cx="1578.7" cy="895.4" rx="9.8" ry="7.3"/><ellipse cx="1569.8" cy="896.9" rx="9.8" ry="7.3"/><ellipse cx="1560.9" cy="898.3" rx="9.8" ry="7.3"/><ellipse cx="1552" cy="899.8" rx="9.8" ry="7.3"/><ellipse cx="1543.1" cy="901.3" rx="9.8" ry="7.3"/><ellipse cx="1541.5" cy="916" rx="9.8" ry="7.3"/><ellipse cx="1549.2" cy="920.8" rx="9.8" ry="7.3"/><ellipse cx="1551" cy="920.9" rx="9.8" ry="7.3"/><ellipse cx="1556.3" cy="922.8" rx="9.8" ry="7.3"/><ellipse cx="1547.5" cy="924.3" rx="9.8" ry="7.3"/><ellipse cx="1541.5" cy="923.3" rx="9.8" ry="7.3"/><ellipse cx="1532.8" cy="920.7" rx="9.8" ry="7.3"/><ellipse cx="1524.2" cy="918.1" rx="9.8" ry="7.3"/><ellipse cx="1513.6" cy="920.3" rx="9.8" ry="7.3"/><ellipse cx="1504.6" cy="920.8" rx="9.8" ry="7.3"/><ellipse cx="1495.6" cy="921.2" rx="9.8" ry="7.3"/><ellipse cx="1486.6" cy="921.7" rx="9.8" ry="7.3"/><ellipse cx="1477.6" cy="922.2" rx="9.8" ry="7.3"/><ellipse cx="1468.6" cy="922.6" rx="9.8" ry="7.3"/><ellipse cx="1459.6" cy="923.1" rx="9.8" ry="7.3"/><ellipse cx="1450.7" cy="923.5" rx="9.8" ry="7.3"/><ellipse cx="1441.7" cy="924" rx="9.8" ry="7.3"/><ellipse cx="1432.7" cy="924.5" rx="9.8" ry="7.3"/><ellipse cx="1425.5" cy="924.4" rx="9.8" ry="7.3"/><ellipse cx="1416.8" cy="922.2" rx="9.8" ry="7.3"/><ellipse cx="1408" cy="920" rx="9.8" ry="7.3"/><ellipse cx="1408.7" cy="917.7" rx="9.8" ry="7.3"/><ellipse cx="1406.1" cy="909.1" rx="9.8" ry="7.3"/><ellipse cx="1406.2" cy="902.4" rx="9.8" ry="7.3"/><ellipse cx="1406.2" cy="893.4" rx="9.8" ry="7.3"/><ellipse cx="1406.2" cy="884.4" rx="9.8" ry="7.3"/><ellipse cx="1406.2" cy="875.4" rx="9.8" ry="7.3"/><ellipse cx="1406.2" cy="866.4" rx="9.8" ry="7.3"/></g>
<g fill="#ff0000"><polygon points="1404.9,863.1 1403.5,863.1 1429.6,862.7 1436.7,844.3 1448,843.7 1475.5,851.2 1478.1,820.9 1490.8,812.7 1508.1,817.3 1520.8,815 1534.1,825.9 1550.6,839.8 1567.4,844.3 1565.2,819.8 1579.7,815 1607.2,821.8 1616.7,826.8 1617.7,841.3 1640.1,844.8 1656.8,835.6 1675,834.5 1688.6,838.9 1688.6,840.1 1671.4,849.2 1672.9,860.3 1653.5,867.6 1624.9,873.1 1621.8,887.4 1618.6,890.4 1608.3,883.6 1576.5,887 1576.3,896.3 1553.2,899.6 1532.8,906.2 1552.3,922.8 1553.4,923.8 1545.4,924.8 1522,917.9 1514.1,920.3 1426.4,924.8 1407.6,919.9 1406.1,908.9"/><ellipse cx="1430.4" cy="420.7" rx="9.8" ry="7.3"/><ellipse cx="1430.4" cy="429.4" rx="9.8" ry="7.3"/><ellipse cx="1430.4" cy="458.8" rx="9.8" ry="7.3"/><ellipse cx="1442.4" cy="469.7" rx="9.8" ry="7.3"/><ellipse cx="1606.8" cy="516.5" rx="9.8" ry="7.3"/><ellipse cx="1441.9" cy="551.1" rx="9.8" ry="7.3"/><ellipse cx="1503.8" cy="562.1" rx="9.8" ry="7.3"/><ellipse cx="1498.1" cy="577" rx="9.8" ry="7.3"/><ellipse cx="1430.4" cy="618.9" rx="9.8" ry="7.3"/><ellipse cx="1447.6" cy="630.4" rx="9.8" ry="7.3"/><ellipse cx="1470.1" cy="630.9" rx="9.8" ry="7.3"/><ellipse cx="1436.2" cy="641.2" rx="9.8" ry="7.3"/><ellipse cx="1470.1" cy="655.6" rx="9.8" ry="7.3"/><ellipse cx="1480.9" cy="671" rx="9.8" ry="7.3"/><ellipse cx="1493.5" cy="667.5" rx="9.8" ry="7.3"/><ellipse cx="1498.1" cy="681.3" rx="9.8" ry="7.3"/><ellipse cx="1532.4" cy="659.5" rx="9.8" ry="7.3"/><ellipse cx="1584" cy="647.6" rx="9.8" ry="7.3"/><ellipse cx="1634" cy="618.9" rx="9.8" ry="7.3"/><ellipse cx="1645.4" cy="646.9" rx="9.8" ry="7.3"/><ellipse cx="1612" cy="672.6" rx="9.8" ry="7.3"/><ellipse cx="1628.7" cy="688.6" rx="9.8" ry="7.3"/><ellipse cx="1492.3" cy="699.5" rx="9.8" ry="7.3"/><ellipse cx="1526.7" cy="700.6" rx="9.8" ry="7.3"/><ellipse cx="1413.9" cy="716.4" rx="9.8" ry="7.3"/><ellipse cx="1526.7" cy="715.2" rx="9.8" ry="7.3"/><ellipse cx="1547.3" cy="721" rx="9.8" ry="7.3"/><ellipse cx="1572.5" cy="719.8" rx="9.8" ry="7.3"/><ellipse cx="1593.2" cy="731.3" rx="9.8" ry="7.3"/><ellipse cx="1464.8" cy="724.4" rx="9.8" ry="7.3"/><ellipse cx="1470.5" cy="735.8" rx="9.8" ry="7.3"/><ellipse cx="1498" cy="740.9" rx="9.8" ry="7.3"/><ellipse cx="1526.7" cy="731.3" rx="9.8" ry="7.3"/><ellipse cx="1530.1" cy="743.9" rx="9.8" ry="7.3"/><ellipse cx="1572.5" cy="745" rx="9.8" ry="7.3"/><ellipse cx="1713.5" cy="735.8" rx="9.8" ry="7.3"/><ellipse cx="1696.3" cy="746.2" rx="9.8" ry="7.3"/><ellipse cx="1407.5" cy="755.3" rx="9.8" ry="7.3"/><ellipse cx="1425.8" cy="764.5" rx="9.8" ry="7.3"/><ellipse cx="1453.4" cy="757.6" rx="9.8" ry="7.3"/><ellipse cx="1480.9" cy="756.5" rx="9.8" ry="7.3"/><ellipse cx="1538.2" cy="758.8" rx="9.8" ry="7.3"/><ellipse cx="1577.1" cy="759.9" rx="9.8" ry="7.3"/><ellipse cx="1634" cy="758.8" rx="9.8" ry="7.3"/><ellipse cx="1595.5" cy="770.2" rx="9.8" ry="7.3"/><ellipse cx="1606.9" cy="774.8" rx="9.8" ry="7.3"/><ellipse cx="1515.2" cy="770.2" rx="9.8" ry="7.3"/><ellipse cx="1538.2" cy="773.7" rx="9.8" ry="7.3"/><ellipse cx="1725" cy="773.7" rx="9.8" ry="7.3"/><ellipse cx="1407.5" cy="774.8" rx="9.8" ry="7.3"/><ellipse cx="1407.5" cy="788.6" rx="9.8" ry="7.3"/><ellipse cx="1570.3" cy="787.4" rx="9.8" ry="7.3"/><ellipse cx="1565.7" cy="795.4" rx="9.8" ry="7.3"/><ellipse cx="1524.4" cy="793.2" rx="9.8" ry="7.3"/><ellipse cx="1691.3" cy="789.3" rx="9.8" ry="7.3"/><ellipse cx="1419" cy="800" rx="9.8" ry="7.3"/><ellipse cx="1457.9" cy="800" rx="9.8" ry="7.3"/><ellipse cx="1441.9" cy="806.9" rx="9.8" ry="7.3"/><ellipse cx="1684.9" cy="813.8" rx="9.8" ry="7.3"/><ellipse cx="1691.7" cy="813.8" rx="9.8" ry="7.3"/><ellipse cx="1741" cy="840.1" rx="9.8" ry="7.3"/><ellipse cx="1707.8" cy="863" rx="9.8" ry="7.3"/><ellipse cx="1618.4" cy="888.3" rx="9.8" ry="7.3"/><ellipse cx="1549.6" cy="921.5" rx="9.8" ry="7.3"/><ellipse cx="1092.8" cy="923.2" rx="9.8" ry="7.3"/><ellipse cx="1136.4" cy="917.4" rx="9.8" ry="7.3"/><ellipse cx="1407.5" cy="809.2" rx="9.8" ry="7.3"/><ellipse cx="1414.4" cy="818.4" rx="9.8" ry="7.3"/><ellipse cx="1407.5" cy="827.5" rx="9.8" ry="7.3"/><ellipse cx="1407.5" cy="845.9" rx="9.8" ry="7.3"/><ellipse cx="1421.3" cy="797.7" rx="9.8" ry="7.3"/><ellipse cx="1419" cy="809.2" rx="9.8" ry="7.3"/><ellipse cx="1444.2" cy="804.6" rx="9.8" ry="7.3"/><ellipse cx="1441.9" cy="818.4" rx="9.8" ry="7.3"/><ellipse cx="1430.4" cy="841.3" rx="9.8" ry="7.3"/><ellipse cx="1448.8" cy="845.9" rx="9.8" ry="7.3"/><ellipse cx="1467.1" cy="848.2" rx="9.8" ry="7.3"/><ellipse cx="1402" cy="865" rx="9.8" ry="7.3"/><ellipse cx="1406.6" cy="863.1" rx="9.8" ry="7.3"/><ellipse cx="1415.6" cy="863.1" rx="9.8" ry="7.3"/><ellipse cx="1424.6" cy="863.1" rx="9.8" ry="7.3"/><ellipse cx="1435.7" cy="852.7" rx="9.8" ry="7.3"/><ellipse cx="1438.9" cy="844.3" rx="9.8" ry="7.3"/><ellipse cx="1439.3" cy="844.4" rx="9.8" ry="7.3"/><ellipse cx="1448.3" cy="843.7" rx="9.8" ry="7.3"/><ellipse cx="1454.4" cy="846.3" rx="9.8" ry="7.3"/><ellipse cx="1462.9" cy="849.2" rx="9.8" ry="7.3"/><ellipse cx="1479.5" cy="844" rx="9.8" ry="7.3"/><ellipse cx="1479.5" cy="835" rx="9.8" ry="7.3"/><ellipse cx="1479.5" cy="826" rx="9.8" ry="7.3"/><ellipse cx="1475" cy="822.7" rx="9.8" ry="7.3"/><ellipse cx="1482.8" cy="818.2" rx="9.8" ry="7.3"/><ellipse cx="1490.7" cy="813.8" rx="9.8" ry="7.3"/><ellipse cx="1494.5" cy="814.2" rx="9.8" ry="7.3"/><ellipse cx="1503.3" cy="816.3" rx="9.8" ry="7.3"/><ellipse cx="1514.5" cy="816.4" rx="9.8" ry="7.3"/><ellipse cx="1518.5" cy="814.7" rx="9.8" ry="7.3"/><ellipse cx="1525.9" cy="819.9" rx="9.8" ry="7.3"/><ellipse cx="1533.2" cy="825.2" rx="9.8" ry="7.3"/><ellipse cx="1539.5" cy="830.7" rx="9.8" ry="7.3"/><ellipse cx="1546.4" cy="836.6" rx="9.8" ry="7.3"/><ellipse cx="1555.4" cy="842" rx="9.8" ry="7.3"/><ellipse cx="1570.4" cy="834.3" rx="9.8" ry="7.3"/><ellipse cx="1568.6" cy="825.5" rx="9.8" ry="7.3"/><ellipse cx="1566.8" cy="816.7" rx="9.8" ry="7.3"/><ellipse cx="1567.2" cy="819.6" rx="9.8" ry="7.3"/><ellipse cx="1575.7" cy="816.8" rx="9.8" ry="7.3"/><ellipse cx="1581.1" cy="815.7" rx="9.8" ry="7.3"/><ellipse cx="1589.9" cy="817.7" rx="9.8" ry="7.3"/><ellipse cx="1598.6" cy="819.7" rx="9.8" ry="7.3"/><ellipse cx="1607.4" cy="821.7" rx="9.8" ry="7.3"/><ellipse cx="1614" cy="825.5" rx="9.8" ry="7.3"/><ellipse cx="1615.1" cy="825" rx="9.8" ry="7.3"/><ellipse cx="1615.1" cy="834" rx="9.8" ry="7.3"/><ellipse cx="1628.4" cy="843.4" rx="9.8" ry="7.3"/><ellipse cx="1637.4" cy="844.7" rx="9.8" ry="7.3"/><ellipse cx="1649.3" cy="840.5" rx="9.8" ry="7.3"/><ellipse cx="1657.1" cy="836" rx="9.8" ry="7.3"/><ellipse cx="1663.1" cy="835.2" rx="9.8" ry="7.3"/><ellipse cx="1672" cy="834.7" rx="9.8" ry="7.3"/><ellipse cx="1678.7" cy="835.9" rx="9.8" ry="7.3"/><ellipse cx="1687.3" cy="838.6" rx="9.8" ry="7.3"/><ellipse cx="1686.8" cy="839.1" rx="9.8" ry="7.3"/><ellipse cx="1689.1" cy="839.6" rx="9.8" ry="7.3"/><ellipse cx="1681.1" cy="843.9" rx="9.8" ry="7.3"/><ellipse cx="1670.4" cy="855.6" rx="9.8" ry="7.3"/><ellipse cx="1671.3" cy="864.5" rx="9.8" ry="7.3"/><ellipse cx="1669" cy="861.5" rx="9.8" ry="7.3"/><ellipse cx="1660.6" cy="864.7" rx="9.8" ry="7.3"/><ellipse cx="1653.2" cy="867.7" rx="9.8" ry="7.3"/><ellipse cx="1644.4" cy="869.3" rx="9.8" ry="7.3"/><ellipse cx="1635.5" cy="870.9" rx="9.8" ry="7.3"/><ellipse cx="1621.8" cy="878.8" rx="9.8" ry="7.3"/><ellipse cx="1620.3" cy="887.7" rx="9.8" ry="7.3"/><ellipse cx="1619.2" cy="888.8" rx="9.8" ry="7.3"/><ellipse cx="1617.4" cy="888.2" rx="9.8" ry="7.3"/><ellipse cx="1605.8" cy="883.6" rx="9.8" ry="7.3"/><ellipse cx="1596.8" cy="884.4" rx="9.8" ry="7.3"/><ellipse cx="1587.9" cy="885.2" rx="9.8" ry="7.3"/><ellipse cx="1573.9" cy="894" rx="9.8" ry="7.3"/><ellipse cx="1578.7" cy="895.4" rx="9.8" ry="7.3"/><ellipse cx="1569.8" cy="896.9" rx="9.8" ry="7.3"/><ellipse cx="1560.9" cy="898.3" rx="9.8" ry="7.3"/><ellipse cx="1552" cy="899.8" rx="9.8" ry="7.3"/><ellipse cx="1543.1" cy="901.3" rx="9.8" ry="7.3"/><ellipse cx="1541.5" cy="916" rx="9.8" ry="7.3"/><ellipse cx="1549.2" cy="920.8" rx="9.8" ry="7.3"/><ellipse cx="1551" cy="920.9" rx="9.8" ry="7.3"/><ellipse cx="1556.3" cy="922.8" rx="9.8" ry="7.3"/><ellipse cx="1547.5" cy="924.3" rx="9.8" ry="7.3"/><ellipse cx="1541.5" cy="923.3" rx="9.8" ry="7.3"/><ellipse cx="1532.8" cy="920.7" rx="9.8" ry="7.3"/><ellipse cx="1524.2" cy="918.1" rx="9.8" ry="7.3"/><ellipse cx="1513.6" cy="920.3" rx="9.8" ry="7.3"/><ellipse cx="1504.6" cy="920.8" rx="9.8" ry="7.3"/><ellipse cx="1495.6" cy="921.2" rx="9.8" ry="7.3"/><ellipse cx="1486.6" cy="921.7" rx="9.8" ry="7.3"/><ellipse cx="1477.6" cy="922.2" rx="9.8" ry="7.3"/><ellipse cx="1468.6" cy="922.6" rx="9.8" ry="7.3"/><ellipse cx="1459.6" cy="923.1" rx="9.8" ry="7.3"/><ellipse cx="1450.7" cy="923.5" rx="9.8" ry="7.3"/><ellipse cx="1441.7" cy="924" rx="9.8" ry="7.3"/><ellipse cx="1432.7" cy="924.5" rx="9.8" ry="7.3"/><ellipse cx="1425.5" cy="924.4" rx="9.8" ry="7.3"/><ellipse cx="1416.8" cy="922.2" rx="9.8" ry="7.3"/><ellipse cx="1408" cy="920" rx="9.8" ry="7.3"/><ellipse cx="1408.7" cy="917.7" rx="9.8" ry="7.3"/><ellipse cx="1406.1" cy="909.1" rx="9.8" ry="7.3"/><ellipse cx="1406.2" cy="902.4" rx="9.8" ry="7.3"/><ellipse cx="1406.2" cy="893.4" rx="9.8" ry="7.3"/><ellipse cx="1406.2" cy="884.4" rx="9.8" ry="7.3"/><ellipse cx="1406.2" cy="875.4" rx="9.8" ry="7.3"/><ellipse cx="1406.2" cy="866.4" rx="9.8" ry="7.3"/></g>
<line x1="150.3" y1="924.5" x2="1816.6" y2="924.5" stroke="#262626" stroke-opacity="0.3" stroke-width="2.1" stroke-dasharray="9.8 10.25"/>
<line x1="910.1" y1="132.3" x2="910.1" y2="972" stroke="#1e1e1e" stroke-width="2.5" stroke-dasharray="7.2 8.226"/>
<line x1="1079.5" y1="132.3" x2="1079.5" y2="972" stroke="#1e1e1e" stroke-width="2.5" stroke-dasharray="7.2 8.226"/>
<line x1="760.4" y1="924" x2="773" y2="898" stroke="#222" stroke-width="1.7"/>
<line x1="1246.4" y1="899.1" x2="1235" y2="924.3" stroke="#222" stroke-width="1.7"/>
<line x1="1395" y1="325.6" x2="1417.5" y2="348.8" stroke="#222" stroke-width="1.7"/>
<line x1="1454.4" y1="370.3" x2="1480.2" y2="378.8" stroke="#222" stroke-width="1.7"/>
<line x1="1393.4" y1="391.4" x2="1453.6" y2="412.4" stroke="#222" stroke-width="1.7"/>
<line x1="1434.7" y1="444.6" x2="1462" y2="427.2" stroke="#222" stroke-width="1.7"/>
<line x1="1493.5" y1="430.5" x2="1548" y2="513.2" stroke="#222" stroke-width="1.7"/>
<line x1="1507.7" y1="325.8" x2="1531.1" y2="348.2" stroke="#222" stroke-width="1.7"/>
<line x1="1650" y1="313.1" x2="1550.6" y2="410.2" stroke="#222" stroke-width="1.7"/>
<line x1="1644.1" y1="395.4" x2="1692.8" y2="389.1" stroke="#222" stroke-width="1.7"/>
<line x1="1585" y1="429.4" x2="1606.8" y2="453.4" stroke="#222" stroke-width="1.7"/>
<ellipse cx="564.8" cy="161.6" rx="10.1" ry="7.6" fill="#0000ff" stroke="#00008b" stroke-width="1.3"/>
<ellipse cx="757" cy="929.4" rx="10.1" ry="7.6" fill="#bebebe" stroke="#333" stroke-width="1.3"/>
<ellipse cx="1232" cy="931.2" rx="10.1" ry="7.6" fill="#bebebe" stroke="#333" stroke-width="1.3"/>
<ellipse cx="1424.3" cy="356.2" rx="10.1" ry="7.6" fill="#ff0000" stroke="#8b1a1a" stroke-width="1.3"/>
<ellipse cx="1442" cy="366.5" rx="10.1" ry="7.6" fill="#ff0000" stroke="#8b1a1a" stroke-width="1.3"/>
<ellipse cx="1537.9" cy="354" rx="10.1" ry="7.6" fill="#ff0000" stroke="#8b1a1a" stroke-width="1.3"/>
<ellipse cx="1543.8" cy="417.4" rx="10.1" ry="7.6" fill="#ff0000" stroke="#8b1a1a" stroke-width="1.3"/>
<ellipse cx="1628.5" cy="396.9" rx="10.1" ry="7.6" fill="#ff0000" stroke="#8b1a1a" stroke-width="1.3"/>
<ellipse cx="1576.9" cy="422.2" rx="10.1" ry="7.6" fill="#ff0000" stroke="#8b1a1a" stroke-width="1.3"/>
<ellipse cx="1463" cy="415.8" rx="10.1" ry="7.6" fill="#ff0000" stroke="#8b1a1a" stroke-width="1.3"/>
<ellipse cx="1469" cy="421.8" rx="10.1" ry="7.6" fill="#ff0000" stroke="#8b1a1a" stroke-width="1.3"/>
<ellipse cx="1488.8" cy="421.8" rx="10.1" ry="7.6" fill="#ff0000" stroke="#8b1a1a" stroke-width="1.3"/>
<text x="600.9" y="168.5" font-family="Liberation Sans" font-size="31" fill="#262626" textLength="154.9" lengthAdjust="spacingAndGlyphs">ANXA10</text>
<text x="1212.5" y="330.7" font-family="Liberation Sans" font-size="31" fill="#262626" textLength="177.5" lengthAdjust="spacingAndGlyphs">HLA-DRA</text>
<text x="1451.3" y="322" font-family="Liberation Sans" font-size="31" fill="#262626" textLength="101.9" lengthAdjust="spacingAndGlyphs">KRT7</text>
<text x="1654.3" y="322.5" font-family="Liberation Sans" font-size="31" fill="#262626" textLength="109.7" lengthAdjust="spacingAndGlyphs">TGM2</text>
<text x="1261.5" y="401.2" font-family="Liberation Sans" font-size="31" fill="#262626" textLength="126.5" lengthAdjust="spacingAndGlyphs">RAB34</text>
<text x="1484.1" y="391.5" font-family="Liberation Sans" font-size="31" fill="#262626" textLength="177.3" lengthAdjust="spacingAndGlyphs">FAM129A</text>
<text x="1697.7" y="399.8" font-family="Liberation Sans" font-size="31" fill="#262626" textLength="90.3" lengthAdjust="spacingAndGlyphs">MSN</text>
<text x="1364.7" y="470.8" font-family="Liberation Sans" font-size="31" fill="#262626" textLength="102.7" lengthAdjust="spacingAndGlyphs">CCL2</text>
<text x="1609.9" y="470.8" font-family="Liberation Sans" font-size="31" fill="#262626" textLength="97.7" lengthAdjust="spacingAndGlyphs">CSF1</text>
<text x="1503.1" y="539.4" font-family="Liberation Sans" font-size="31" fill="#262626" textLength="99.5" lengthAdjust="spacingAndGlyphs">AKT3</text>
<text x="776.9" y="904.2" font-family="Liberation Sans" font-size="31" fill="#262626" textLength="105.5" lengthAdjust="spacingAndGlyphs">LEPR</text>
<text x="1250.1" y="905.3" font-family="Liberation Sans" font-size="31" fill="#262626" textLength="103.7" lengthAdjust="spacingAndGlyphs">ITLN1</text>
<text x="6" y="1146" font-family="Liberation Serif" font-size="57.5" fill="#000">B</text>
<defs><linearGradient id="bg1" x1="0" y1="0" x2="0" y2="1"><stop offset="0" stop-color="#fefefe"/><stop offset="1" stop-color="#f6f6f6"/></linearGradient></defs>
<rect x="5" y="2158" width="1091" height="39" fill="url(#bg1)"/>
<polygon points="134.5,1328.1 514.4,1213.2 1052.4,1393.1 966.4,1910 651.1,2112.8 208,1831.9" fill="#e5ecf6"/>
<line x1="222.2" y1="1825.3" x2="152.1" y2="1322.8" stroke="#fff" stroke-width="2.2"/>
<line x1="222.2" y1="1825.3" x2="665.6" y2="2103.4" stroke="#fff" stroke-width="2.2"/>
<line x1="364.6" y1="1758.8" x2="325.5" y2="1270.3" stroke="#fff" stroke-width="2.2"/>
<line x1="364.6" y1="1758.8" x2="809.5" y2="2010.9" stroke="#fff" stroke-width="2.2"/>
<line x1="495.1" y1="1697.9" x2="481.8" y2="1223" stroke="#fff" stroke-width="2.2"/>
<line x1="495.1" y1="1697.9" x2="939.3" y2="1927.4" stroke="#fff" stroke-width="2.2"/>
<line x1="628.1" y1="1738.5" x2="639.3" y2="1255" stroke="#fff" stroke-width="2.2"/>
<line x1="628.1" y1="1738.5" x2="311.8" y2="1897.8" stroke="#fff" stroke-width="2.2"/>
<line x1="760.4" y1="1805.6" x2="798.6" y2="1308.2" stroke="#fff" stroke-width="2.2"/>
<line x1="760.4" y1="1805.6" x2="443.4" y2="1981.1" stroke="#fff" stroke-width="2.2"/>
<line x1="905.7" y1="1879.2" x2="976.8" y2="1367.9" stroke="#fff" stroke-width="2.2"/>
<line x1="905.7" y1="1879.2" x2="589.5" y2="2073.7" stroke="#fff" stroke-width="2.2"/>
<line x1="521" y1="1593.7" x2="194" y2="1735.8" stroke="#fff" stroke-width="2.2"/>
<line x1="521" y1="1593.7" x2="982.7" y2="1812.2" stroke="#fff" stroke-width="2.2"/>
<line x1="518.8" y1="1466.8" x2="174.4" y2="1601.3" stroke="#fff" stroke-width="2.2"/>
<line x1="518.8" y1="1466.8" x2="1005.6" y2="1674.7" stroke="#fff" stroke-width="2.2"/>
<line x1="516.4" y1="1329" x2="152.8" y2="1453.6" stroke="#fff" stroke-width="2.2"/>
<line x1="516.4" y1="1329" x2="1030.8" y2="1522.8" stroke="#fff" stroke-width="2.2"/>
<polygon points="466.5,1504.6 490.2,1504.4 528.5,1506.4 557.8,1512.3 598.3,1518.3 628.6,1522.4 658.9,1525.4 699.5,1528.4 740.9,1528.4 761.2,1525.4 779.1,1524.4 799,1528.4 830.2,1527.4 853.8,1527.4 867,1530.2 873.7,1530 865.3,1541.7 872.3,1557.7 871.1,1576.5 898.4,1584.8 910.7,1597.1 920,1615.5 933.8,1629.8 944.5,1640.3 953.3,1647.4 953.3,1644.5 943.4,1652.2 941.1,1661.6 925.6,1678.6 935.3,1701.6 936.6,1702.8 928.6,1710.3 910.1,1732 916.5,1770.2 910.4,1785.2 890.6,1803.4 854.2,1816.4 852.7,1832 842.7,1838.7 827.5,1849.7 809.8,1847.9 812.3,1842.9 827.5,1813.1 807,1790 789.8,1772.4 784.5,1749.8 780.7,1728.2 749.2,1717.9 727.4,1709.7 693.4,1711.8 688.9,1760.8 678.5,1762.6 613.9,1762.8 587.3,1778.3 593.4,1798.1 592.7,1803 576.4,1812.8 561,1833.7 553,1843.6 541,1847.9 527.1,1852.7 509.7,1855.6 491.8,1853.7 473.2,1849.8 462.3,1845.9 453.8,1842.9 454.1,1844.6 459.1,1839.5 464.5,1820 446.5,1792 445.6,1767.6 452.2,1743.4 458.6,1707.4 458.7,1686.6 460.6,1661.4 462.4,1642.7 469.7,1612.2 463.9,1584.9 455.3,1564.9 470.4,1548.3 471.7,1509" fill="#257ab6"/>
<g fill="#1f77b4" fill-opacity="0.8"><ellipse cx="616.7" cy="1434.2" rx="19.6" ry="15.5"/><ellipse cx="659.2" cy="1433.4" rx="19.6" ry="15.5"/><ellipse cx="696.4" cy="1431.2" rx="19.6" ry="15.5"/><ellipse cx="714.3" cy="1432.7" rx="19.6" ry="15.5"/><ellipse cx="547.4" cy="1442.3" rx="19.6" ry="15.5"/><ellipse cx="595.1" cy="1449.8" rx="19.6" ry="15.5"/><ellipse cx="663.7" cy="1445.3" rx="19.6" ry="15.5"/><ellipse cx="708.4" cy="1446.8" rx="19.6" ry="15.5"/><ellipse cx="547.4" cy="1469.2" rx="19.6" ry="15.5"/><ellipse cx="583.2" cy="1461.7" rx="19.6" ry="15.5"/><ellipse cx="662.2" cy="1461.7" rx="19.6" ry="15.5"/><ellipse cx="703.9" cy="1457.2" rx="19.6" ry="15.5"/><ellipse cx="733.7" cy="1469.2" rx="19.6" ry="15.5"/><ellipse cx="589.2" cy="1473.6" rx="19.6" ry="15.5"/><ellipse cx="635.4" cy="1473.6" rx="19.6" ry="15.5"/><ellipse cx="656.2" cy="1473.6" rx="19.6" ry="15.5"/><ellipse cx="709.8" cy="1469.2" rx="19.6" ry="15.5"/><ellipse cx="738.2" cy="1482.6" rx="19.6" ry="15.5"/><ellipse cx="577.2" cy="1484.1" rx="19.6" ry="15.5"/><ellipse cx="644.3" cy="1494.5" rx="19.6" ry="15.5"/><ellipse cx="724.7" cy="1491.5" rx="19.6" ry="15.5"/><ellipse cx="766.5" cy="1491.5" rx="19.6" ry="15.5"/><ellipse cx="793.3" cy="1488.5" rx="19.6" ry="15.5"/><ellipse cx="763.5" cy="1503.4" rx="19.6" ry="15.5"/><ellipse cx="654.7" cy="1500.5" rx="19.6" ry="15.5"/><ellipse cx="703.9" cy="1503.4" rx="19.6" ry="15.5"/><ellipse cx="793.3" cy="1509.4" rx="19.6" ry="15.5"/><ellipse cx="644.3" cy="1524.3" rx="19.6" ry="15.5"/><ellipse cx="674.1" cy="1524.3" rx="19.6" ry="15.5"/><ellipse cx="689" cy="1527.3" rx="19.6" ry="15.5"/><ellipse cx="748.6" cy="1524.3" rx="19.6" ry="15.5"/><ellipse cx="718.8" cy="1533.2" rx="19.6" ry="15.5"/><ellipse cx="793.3" cy="1533.2" rx="19.6" ry="15.5"/><ellipse cx="620" cy="1505" rx="19.6" ry="15.5"/><ellipse cx="600" cy="1490" rx="19.6" ry="15.5"/><ellipse cx="560" cy="1480" rx="19.6" ry="15.5"/><ellipse cx="520" cy="1480" rx="19.6" ry="15.5"/><ellipse cx="500" cy="1490" rx="19.6" ry="15.5"/><ellipse cx="771.3" cy="1487.9" rx="19.6" ry="15.5"/><ellipse cx="791.5" cy="1487.9" rx="19.6" ry="15.5"/><ellipse cx="813" cy="1476.6" rx="19.6" ry="15.5"/><ellipse cx="843.2" cy="1472.8" rx="19.6" ry="15.5"/><ellipse cx="830.6" cy="1490.4" rx="19.6" ry="15.5"/><ellipse cx="845.8" cy="1494.2" rx="19.6" ry="15.5"/><ellipse cx="813" cy="1500.5" rx="19.6" ry="15.5"/><ellipse cx="797.8" cy="1510.6" rx="19.6" ry="15.5"/><ellipse cx="775.1" cy="1510.6" rx="19.6" ry="15.5"/><ellipse cx="869.7" cy="1525.8" rx="19.6" ry="15.5"/><ellipse cx="835.7" cy="1518.2" rx="19.6" ry="15.5"/><ellipse cx="790.3" cy="1538.4" rx="19.6" ry="15.5"/><ellipse cx="816.7" cy="1528.3" rx="19.6" ry="15.5"/><ellipse cx="873.5" cy="1551" rx="19.6" ry="15.5"/><ellipse cx="842" cy="1547.2" rx="19.6" ry="15.5"/><ellipse cx="830.6" cy="1562.3" rx="19.6" ry="15.5"/><ellipse cx="586.4" cy="1374.3" rx="19.6" ry="15.5"/><ellipse cx="613.2" cy="1362.5" rx="19.6" ry="15.5"/><ellipse cx="677.8" cy="1381.6" rx="19.6" ry="15.5"/><ellipse cx="785.7" cy="1368.5" rx="19.6" ry="15.5"/><ellipse cx="542.7" cy="1441.6" rx="19.6" ry="15.5"/><ellipse cx="544.4" cy="1469.1" rx="19.6" ry="15.5"/><ellipse cx="615.7" cy="1434.7" rx="19.6" ry="15.5"/><ellipse cx="659.6" cy="1434.7" rx="19.6" ry="15.5"/><ellipse cx="695.7" cy="1429.6" rx="19.6" ry="15.5"/><ellipse cx="594.3" cy="1451.9" rx="19.6" ry="15.5"/><ellipse cx="663" cy="1453.6" rx="19.6" ry="15.5"/><ellipse cx="580.5" cy="1465.7" rx="19.6" ry="15.5"/><ellipse cx="637.2" cy="1474.3" rx="19.6" ry="15.5"/><ellipse cx="659.6" cy="1465.7" rx="19.6" ry="15.5"/><ellipse cx="472.2" cy="1508.6" rx="19.6" ry="15.5"/><ellipse cx="716.1" cy="1431.3" rx="19.6" ry="15.5"/><ellipse cx="707.5" cy="1448.5" rx="19.6" ry="15.5"/><ellipse cx="686.9" cy="1455.3" rx="19.6" ry="15.5"/><ellipse cx="736.7" cy="1469.1" rx="19.6" ry="15.5"/><ellipse cx="714.4" cy="1465.7" rx="19.6" ry="15.5"/><ellipse cx="766" cy="1491.5" rx="19.6" ry="15.5"/><ellipse cx="817.5" cy="1481.1" rx="19.6" ry="15.5"/><ellipse cx="843.3" cy="1476" rx="19.6" ry="15.5"/><ellipse cx="834.7" cy="1494.9" rx="19.6" ry="15.5"/><ellipse cx="800.3" cy="1486.3" rx="19.6" ry="15.5"/><ellipse cx="869.1" cy="1524.1" rx="19.6" ry="15.5"/><ellipse cx="416.1" cy="1628.9" rx="19.6" ry="15.5"/><ellipse cx="431.6" cy="1644.4" rx="19.6" ry="15.5"/><ellipse cx="458" cy="1565" rx="19.6" ry="15.5"/><ellipse cx="421.3" cy="1758.9" rx="19.6" ry="15.5"/><ellipse cx="423" cy="1784.7" rx="19.6" ry="15.5"/><ellipse cx="426.4" cy="1811.3" rx="19.6" ry="15.5"/><ellipse cx="443.6" cy="1872.4" rx="19.6" ry="15.5"/><ellipse cx="452.2" cy="1908.5" rx="19.6" ry="15.5"/><ellipse cx="460.8" cy="1905" rx="19.6" ry="15.5"/><ellipse cx="471.1" cy="1929.1" rx="19.6" ry="15.5"/><ellipse cx="493.5" cy="1949.7" rx="19.6" ry="15.5"/><ellipse cx="493.5" cy="1965.2" rx="19.6" ry="15.5"/><ellipse cx="512.4" cy="1923.9" rx="19.6" ry="15.5"/><ellipse cx="548.5" cy="1911.9" rx="19.6" ry="15.5"/><ellipse cx="546.8" cy="1929.1" rx="19.6" ry="15.5"/><ellipse cx="551.9" cy="1882.7" rx="19.6" ry="15.5"/><ellipse cx="593.2" cy="1877.5" rx="19.6" ry="15.5"/><ellipse cx="569.1" cy="1860.3" rx="19.6" ry="15.5"/><ellipse cx="606.9" cy="1834.5" rx="19.6" ry="15.5"/><ellipse cx="582.9" cy="1829.4" rx="19.6" ry="15.5"/><ellipse cx="653.3" cy="1846.6" rx="19.6" ry="15.5"/><ellipse cx="672.2" cy="1822.5" rx="19.6" ry="15.5"/><ellipse cx="663.9" cy="1846.7" rx="19.6" ry="15.5"/><ellipse cx="633.6" cy="1913.6" rx="19.6" ry="15.5"/><ellipse cx="644.7" cy="1784.7" rx="19.6" ry="15.5"/><ellipse cx="672.2" cy="1781.3" rx="19.6" ry="15.5"/><ellipse cx="500.3" cy="1891.3" rx="19.6" ry="15.5"/><ellipse cx="483.1" cy="1882.7" rx="19.6" ry="15.5"/><ellipse cx="483.2" cy="1878.8" rx="19.6" ry="15.5"/><ellipse cx="503.8" cy="1889.1" rx="19.6" ry="15.5"/><ellipse cx="545" cy="1878.8" rx="19.6" ry="15.5"/><ellipse cx="524.4" cy="1865" rx="19.6" ry="15.5"/><ellipse cx="466" cy="1868.5" rx="19.6" ry="15.5"/><ellipse cx="445.3" cy="1872" rx="19.6" ry="15.5"/><ellipse cx="565.7" cy="1861.6" rx="19.6" ry="15.5"/><ellipse cx="520" cy="1895" rx="19.6" ry="15.5"/><ellipse cx="480" cy="1900" rx="19.6" ry="15.5"/><ellipse cx="689.2" cy="1741.4" rx="19.6" ry="15.5"/><ellipse cx="687.3" cy="1782.4" rx="19.6" ry="15.5"/><ellipse cx="771.1" cy="1784.3" rx="19.6" ry="15.5"/><ellipse cx="727.2" cy="1881.7" rx="19.6" ry="15.5"/><ellipse cx="779.8" cy="1891.5" rx="19.6" ry="15.5"/><ellipse cx="839.3" cy="1875.9" rx="19.6" ry="15.5"/><ellipse cx="860.7" cy="1866.1" rx="19.6" ry="15.5"/><ellipse cx="880.2" cy="1885.6" rx="19.6" ry="15.5"/><ellipse cx="913.3" cy="1872" rx="19.6" ry="15.5"/><ellipse cx="895.8" cy="1844.7" rx="19.6" ry="15.5"/><ellipse cx="876.3" cy="1844.7" rx="19.6" ry="15.5"/><ellipse cx="813.9" cy="1854.5" rx="19.6" ry="15.5"/><ellipse cx="878.2" cy="1811.6" rx="19.6" ry="15.5"/><ellipse cx="909.4" cy="1794" rx="19.6" ry="15.5"/><ellipse cx="917.2" cy="1772.6" rx="19.6" ry="15.5"/><ellipse cx="812" cy="1801.8" rx="19.6" ry="15.5"/><ellipse cx="457.1" cy="1507.4" rx="19.6" ry="15.5"/><ellipse cx="473" cy="1506" rx="19.6" ry="15.5"/><ellipse cx="489" cy="1504.6" rx="19.6" ry="15.5"/><ellipse cx="503.2" cy="1505.1" rx="19.6" ry="15.5"/><ellipse cx="519.2" cy="1505.9" rx="19.6" ry="15.5"/><ellipse cx="533.2" cy="1507.4" rx="19.6" ry="15.5"/><ellipse cx="548.9" cy="1510.6" rx="19.6" ry="15.5"/><ellipse cx="565.3" cy="1513.4" rx="19.6" ry="15.5"/><ellipse cx="581.1" cy="1515.8" rx="19.6" ry="15.5"/><ellipse cx="596.9" cy="1518.2" rx="19.6" ry="15.5"/><ellipse cx="613" cy="1520.3" rx="19.6" ry="15.5"/><ellipse cx="629.3" cy="1522.4" rx="19.6" ry="15.5"/><ellipse cx="645.2" cy="1524" rx="19.6" ry="15.5"/><ellipse cx="661.4" cy="1525.6" rx="19.6" ry="15.5"/><ellipse cx="677.4" cy="1526.8" rx="19.6" ry="15.5"/><ellipse cx="693.3" cy="1528" rx="19.6" ry="15.5"/><ellipse cx="710.2" cy="1528.4" rx="19.6" ry="15.5"/><ellipse cx="726.2" cy="1528.4" rx="19.6" ry="15.5"/><ellipse cx="744.1" cy="1528" rx="19.6" ry="15.5"/><ellipse cx="759.9" cy="1525.6" rx="19.6" ry="15.5"/><ellipse cx="774.6" cy="1524.7" rx="19.6" ry="15.5"/><ellipse cx="787.3" cy="1526.3" rx="19.6" ry="15.5"/><ellipse cx="806" cy="1528.2" rx="19.6" ry="15.5"/><ellipse cx="822" cy="1527.7" rx="19.6" ry="15.5"/><ellipse cx="837.6" cy="1527.4" rx="19.6" ry="15.5"/><ellipse cx="853.6" cy="1527.4" rx="19.6" ry="15.5"/><ellipse cx="866.8" cy="1530.2" rx="19.6" ry="15.5"/><ellipse cx="881.1" cy="1534.5" rx="19.6" ry="15.5"/><ellipse cx="868.1" cy="1531" rx="19.6" ry="15.5"/><ellipse cx="871.3" cy="1556.8" rx="19.6" ry="15.5"/><ellipse cx="870.5" cy="1560.8" rx="19.6" ry="15.5"/><ellipse cx="893.8" cy="1583.7" rx="19.6" ry="15.5"/><ellipse cx="901.4" cy="1588.8" rx="19.6" ry="15.5"/><ellipse cx="909" cy="1595.6" rx="19.6" ry="15.5"/><ellipse cx="916.5" cy="1609.7" rx="19.6" ry="15.5"/><ellipse cx="929.1" cy="1624.9" rx="19.6" ry="15.5"/><ellipse cx="940.7" cy="1636.7" rx="19.6" ry="15.5"/><ellipse cx="953.7" cy="1647.9" rx="19.6" ry="15.5"/><ellipse cx="958" cy="1640.5" rx="19.6" ry="15.5"/><ellipse cx="940.4" cy="1658.7" rx="19.6" ry="15.5"/><ellipse cx="938" cy="1664.7" rx="19.6" ry="15.5"/><ellipse cx="931.5" cy="1694.6" rx="19.6" ry="15.5"/><ellipse cx="934.8" cy="1703.2" rx="19.6" ry="15.5"/><ellipse cx="934.1" cy="1704.9" rx="19.6" ry="15.5"/><ellipse cx="922.4" cy="1717.2" rx="19.6" ry="15.5"/><ellipse cx="910.4" cy="1742.5" rx="19.6" ry="15.5"/><ellipse cx="913.4" cy="1758.2" rx="19.6" ry="15.5"/><ellipse cx="916.5" cy="1773.9" rx="19.6" ry="15.5"/><ellipse cx="912" cy="1779.3" rx="19.6" ry="15.5"/><ellipse cx="907.9" cy="1787.7" rx="19.6" ry="15.5"/><ellipse cx="895.7" cy="1798" rx="19.6" ry="15.5"/><ellipse cx="887.3" cy="1804.7" rx="19.6" ry="15.5"/><ellipse cx="872.1" cy="1809.6" rx="19.6" ry="15.5"/><ellipse cx="850.3" cy="1830.5" rx="19.6" ry="15.5"/><ellipse cx="852.1" cy="1832.1" rx="19.6" ry="15.5"/><ellipse cx="839.6" cy="1840.7" rx="19.6" ry="15.5"/><ellipse cx="825.9" cy="1848.9" rx="19.6" ry="15.5"/><ellipse cx="819" cy="1848" rx="19.6" ry="15.5"/><ellipse cx="803.1" cy="1845.8" rx="19.6" ry="15.5"/><ellipse cx="813" cy="1841.1" rx="19.6" ry="15.5"/><ellipse cx="816.1" cy="1837.2" rx="19.6" ry="15.5"/><ellipse cx="824.3" cy="1823.4" rx="19.6" ry="15.5"/><ellipse cx="811.3" cy="1794.3" rx="19.6" ry="15.5"/><ellipse cx="800" cy="1783" rx="19.6" ry="15.5"/><ellipse cx="788.7" cy="1771.7" rx="19.6" ry="15.5"/><ellipse cx="788.1" cy="1762.7" rx="19.6" ry="15.5"/><ellipse cx="784.7" cy="1751.5" rx="19.6" ry="15.5"/><ellipse cx="771.1" cy="1724.4" rx="19.6" ry="15.5"/><ellipse cx="755.8" cy="1719.9" rx="19.6" ry="15.5"/><ellipse cx="741.9" cy="1714.9" rx="19.6" ry="15.5"/><ellipse cx="722.1" cy="1709.6" rx="19.6" ry="15.5"/><ellipse cx="706.1" cy="1709.6" rx="19.6" ry="15.5"/><ellipse cx="686.6" cy="1733.9" rx="19.6" ry="15.5"/><ellipse cx="685.6" cy="1749.9" rx="19.6" ry="15.5"/><ellipse cx="684.6" cy="1765.9" rx="19.6" ry="15.5"/><ellipse cx="684.5" cy="1760.9" rx="19.6" ry="15.5"/><ellipse cx="671.8" cy="1762.6" rx="19.6" ry="15.5"/><ellipse cx="655.8" cy="1762.6" rx="19.6" ry="15.5"/><ellipse cx="639.8" cy="1762.6" rx="19.6" ry="15.5"/><ellipse cx="623.8" cy="1762.6" rx="19.6" ry="15.5"/><ellipse cx="602.7" cy="1767.7" rx="19.6" ry="15.5"/><ellipse cx="592.2" cy="1797.1" rx="19.6" ry="15.5"/><ellipse cx="591.7" cy="1800.3" rx="19.6" ry="15.5"/><ellipse cx="589.6" cy="1805.2" rx="19.6" ry="15.5"/><ellipse cx="571.9" cy="1817.6" rx="19.6" ry="15.5"/><ellipse cx="562.7" cy="1830.7" rx="19.6" ry="15.5"/><ellipse cx="554" cy="1841" rx="19.6" ry="15.5"/><ellipse cx="546.2" cy="1846.1" rx="19.6" ry="15.5"/><ellipse cx="531" cy="1851.2" rx="19.6" ry="15.5"/><ellipse cx="517.6" cy="1854.2" rx="19.6" ry="15.5"/><ellipse cx="504.8" cy="1855" rx="19.6" ry="15.5"/><ellipse cx="490.2" cy="1853.2" rx="19.6" ry="15.5"/><ellipse cx="474.5" cy="1850.1" rx="19.6" ry="15.5"/><ellipse cx="461.3" cy="1845.5" rx="19.6" ry="15.5"/><ellipse cx="457.6" cy="1854.3" rx="19.6" ry="15.5"/><ellipse cx="459.5" cy="1838.4" rx="19.6" ry="15.5"/><ellipse cx="460.9" cy="1813.3" rx="19.6" ry="15.5"/><ellipse cx="451.9" cy="1800.1" rx="19.6" ry="15.5"/><ellipse cx="447.5" cy="1793.7" rx="19.6" ry="15.5"/><ellipse cx="446.5" cy="1777.7" rx="19.6" ry="15.5"/><ellipse cx="445.8" cy="1766.9" rx="19.6" ry="15.5"/><ellipse cx="449.9" cy="1751.5" rx="19.6" ry="15.5"/><ellipse cx="453.8" cy="1734.5" rx="19.6" ry="15.5"/><ellipse cx="456.6" cy="1718.8" rx="19.6" ry="15.5"/><ellipse cx="458.7" cy="1700.2" rx="19.6" ry="15.5"/><ellipse cx="458.8" cy="1685.4" rx="19.6" ry="15.5"/><ellipse cx="460" cy="1669.5" rx="19.6" ry="15.5"/><ellipse cx="461.3" cy="1653.9" rx="19.6" ry="15.5"/><ellipse cx="462.9" cy="1640.3" rx="19.6" ry="15.5"/><ellipse cx="466.8" cy="1624.8" rx="19.6" ry="15.5"/><ellipse cx="467.8" cy="1602.1" rx="19.6" ry="15.5"/><ellipse cx="464.4" cy="1586.5" rx="19.6" ry="15.5"/><ellipse cx="458.8" cy="1569.7" rx="19.6" ry="15.5"/><ellipse cx="452.8" cy="1569.2" rx="19.6" ry="15.5"/><ellipse cx="463.1" cy="1557" rx="19.6" ry="15.5"/><ellipse cx="471.7" cy="1533.1" rx="19.6" ry="15.5"/><ellipse cx="471.7" cy="1517.1" rx="19.6" ry="15.5"/><ellipse cx="471.7" cy="1501.1" rx="19.6" ry="15.5"/></g>
<polygon points="769.3,1523.4 791.3,1523.4 780.3,1533 788.6,1555 778.9,1561.9 772,1545.4" fill="none" stroke="#4a8fc4" stroke-width="6" stroke-linejoin="round"/>
<polygon points="704.6,1518.5 729.4,1518.5 716,1527.5" fill="none" stroke="#4a8fc4" stroke-width="6" stroke-linejoin="round"/>
<polygon points="817.4,1618.3 823,1618.3 821,1636.2" fill="none" stroke="#4a8fc4" stroke-width="6" stroke-linejoin="round"/>
<polygon points="775.2,1587.6 801.9,1603.3 768.6,1613.3 765.7,1625.7 751.4,1626.7 740,1634.3 737.1,1641 741,1652.4 725.7,1647.6 709.5,1648.1 699,1647.1 713.3,1636.2 713.3,1632.4 721,1629.5 733.3,1622.9 736.2,1610.5 755.2,1608.6 768.6,1601.9" fill="none" stroke="#4a8fc4" stroke-width="6" stroke-linejoin="round"/>
<polygon points="741.9,1669.5 735.2,1677.1 733.3,1695.2 721.9,1697.1 701,1691.4 688.6,1681.9 705.7,1681.9 717.1,1681 732.4,1674.3" fill="none" stroke="#4a8fc4" stroke-width="6" stroke-linejoin="round"/>
<polygon points="769.3,1523.4 791.3,1523.4 780.3,1533 788.6,1555 778.9,1561.9 772,1545.4" fill="#e5ecf6"/>
<polygon points="704.6,1518.5 729.4,1518.5 716,1527.5" fill="#e5ecf6"/>
<polygon points="817.4,1618.3 823,1618.3 821,1636.2" fill="#e5ecf6"/>
<polygon points="775.2,1587.6 801.9,1603.3 768.6,1613.3 765.7,1625.7 751.4,1626.7 740,1634.3 737.1,1641 741,1652.4 725.7,1647.6 709.5,1648.1 699,1647.1 713.3,1636.2 713.3,1632.4 721,1629.5 733.3,1622.9 736.2,1610.5 755.2,1608.6 768.6,1601.9" fill="#e5ecf6"/>
<polygon points="741.9,1669.5 735.2,1677.1 733.3,1695.2 721.9,1697.1 701,1691.4 688.6,1681.9 705.7,1681.9 717.1,1681 732.4,1674.3" fill="#e5ecf6"/>
<polygon points="690.5,1723.8 705.7,1727.6 717.1,1723.8 726.7,1731.4 732.4,1739 745.7,1748.6 764.8,1741 768.6,1741 769.5,1762 700,1762 704.8,1744.8 701.9,1734.3" fill="#e5ecf6"/>
<clipPath id="gapclip"><polygon points="769.3,1523.4 791.3,1523.4 780.3,1533 788.6,1555 778.9,1561.9 772,1545.4"/><polygon points="704.6,1518.5 729.4,1518.5 716,1527.5"/><polygon points="817.4,1618.3 823,1618.3 821,1636.2"/><polygon points="775.2,1587.6 801.9,1603.3 768.6,1613.3 765.7,1625.7 751.4,1626.7 740,1634.3 737.1,1641 741,1652.4 725.7,1647.6 709.5,1648.1 699,1647.1 713.3,1636.2 713.3,1632.4 721,1629.5 733.3,1622.9 736.2,1610.5 755.2,1608.6 768.6,1601.9"/><polygon points="741.9,1669.5 735.2,1677.1 733.3,1695.2 721.9,1697.1 701,1691.4 688.6,1681.9 705.7,1681.9 717.1,1681 732.4,1674.3"/><polygon points="690.5,1723.8 705.7,1727.6 717.1,1723.8 726.7,1731.4 732.4,1739 745.7,1748.6 764.8,1741 768.6,1741 769.5,1762 700,1762 704.8,1744.8 701.9,1734.3"/></clipPath>
<g clip-path="url(#gapclip)"><line x1="222.2" y1="1825.3" x2="152.1" y2="1322.8" stroke="#fff" stroke-width="2.2"/><line x1="222.2" y1="1825.3" x2="665.6" y2="2103.4" stroke="#fff" stroke-width="2.2"/><line x1="364.6" y1="1758.8" x2="325.5" y2="1270.3" stroke="#fff" stroke-width="2.2"/><line x1="364.6" y1="1758.8" x2="809.5" y2="2010.9" stroke="#fff" stroke-width="2.2"/><line x1="495.1" y1="1697.9" x2="481.8" y2="1223" stroke="#fff" stroke-width="2.2"/><line x1="495.1" y1="1697.9" x2="939.3" y2="1927.4" stroke="#fff" stroke-width="2.2"/><line x1="628.1" y1="1738.5" x2="639.3" y2="1255" stroke="#fff" stroke-width="2.2"/><line x1="628.1" y1="1738.5" x2="311.8" y2="1897.8" stroke="#fff" stroke-width="2.2"/><line x1="760.4" y1="1805.6" x2="798.6" y2="1308.2" stroke="#fff" stroke-width="2.2"/><line x1="760.4" y1="1805.6" x2="443.4" y2="1981.1" stroke="#fff" stroke-width="2.2"/><line x1="905.7" y1="1879.2" x2="976.8" y2="1367.9" stroke="#fff" stroke-width="2.2"/><line x1="905.7" y1="1879.2" x2="589.5" y2="2073.7" stroke="#fff" stroke-width="2.2"/><line x1="521" y1="1593.7" x2="194" y2="1735.8" stroke="#fff" stroke-width="2.2"/><line x1="521" y1="1593.7" x2="982.7" y2="1812.2" stroke="#fff" stroke-width="2.2"/><line x1="518.8" y1="1466.8" x2="174.4" y2="1601.3" stroke="#fff" stroke-width="2.2"/><line x1="518.8" y1="1466.8" x2="1005.6" y2="1674.7" stroke="#fff" stroke-width="2.2"/><line x1="516.4" y1="1329" x2="152.8" y2="1453.6" stroke="#fff" stroke-width="2.2"/><line x1="516.4" y1="1329" x2="1030.8" y2="1522.8" stroke="#fff" stroke-width="2.2"/></g>
<polygon points="503,1461.8 523.5,1452.1 531.1,1449.8 529.6,1456.2 530.5,1468 527.8,1487.1 548.1,1506.4 579.3,1514.2 604.1,1512.3 613.3,1517.1 610.2,1513.9 612.5,1519.1 586.8,1525.5 583.5,1556 583.1,1584.2 600.3,1595.1 607.2,1601.3 608.3,1601.1 587.5,1605.8 581.9,1633.3 586.6,1657.8 617.3,1658.3 623.4,1663.2 622.3,1665.6 605.3,1674 606.7,1690.1 602.2,1706.9 616.6,1718.5 617.4,1718.7 610.3,1721.6 602.8,1709.8 590.7,1698.9 585.8,1680.2 562.9,1673.7 546.9,1697.8 540.6,1707.7 529.3,1702.3 528.1,1700.1 538.3,1684 520.2,1665 510.3,1655 500.1,1646.3 499.8,1645.9 520,1635.7 513.8,1617 513.3,1602.7 492.6,1592.8 488.4,1581.2 490,1573.8 499.7,1564.6 492.7,1536.6 489.3,1527.3 494.9,1516.9 494.8,1503 494,1481.8 502.9,1467.2" fill="#fb7f12"/>
<g fill="#ff7f0e" fill-opacity="0.8"><ellipse cx="504" cy="1359.1" rx="19.6" ry="15.5"/><ellipse cx="539.2" cy="1368.5" rx="19.6" ry="15.5"/><ellipse cx="522.1" cy="1384.9" rx="19.6" ry="15.5"/><ellipse cx="511.7" cy="1396.9" rx="19.6" ry="15.5"/><ellipse cx="479.1" cy="1408.9" rx="19.6" ry="15.5"/><ellipse cx="494.6" cy="1415.8" rx="19.6" ry="15.5"/><ellipse cx="547" cy="1410.7" rx="19.6" ry="15.5"/><ellipse cx="555.6" cy="1415.8" rx="19.6" ry="15.5"/><ellipse cx="486" cy="1443.3" rx="19.6" ry="15.5"/><ellipse cx="513.5" cy="1433" rx="19.6" ry="15.5"/><ellipse cx="532.4" cy="1445" rx="19.6" ry="15.5"/><ellipse cx="694" cy="1491.5" rx="19.6" ry="15.5"/><ellipse cx="498" cy="1463.8" rx="19.6" ry="15.5"/><ellipse cx="512.7" cy="1457.4" rx="19.6" ry="15.5"/><ellipse cx="523.5" cy="1452.1" rx="19.6" ry="15.5"/><ellipse cx="524.4" cy="1445.6" rx="19.6" ry="15.5"/><ellipse cx="529" cy="1454.8" rx="19.6" ry="15.5"/><ellipse cx="531" cy="1465.5" rx="19.6" ry="15.5"/><ellipse cx="534" cy="1494.2" rx="19.6" ry="15.5"/><ellipse cx="552.3" cy="1507.4" rx="19.6" ry="15.5"/><ellipse cx="567.8" cy="1511.5" rx="19.6" ry="15.5"/><ellipse cx="587.5" cy="1513.8" rx="19.6" ry="15.5"/><ellipse cx="603.5" cy="1512.6" rx="19.6" ry="15.5"/><ellipse cx="612.1" cy="1517" rx="19.6" ry="15.5"/><ellipse cx="610.4" cy="1512.5" rx="19.6" ry="15.5"/><ellipse cx="617.3" cy="1517.5" rx="19.6" ry="15.5"/><ellipse cx="601.6" cy="1520.8" rx="19.6" ry="15.5"/><ellipse cx="583" cy="1544.9" rx="19.6" ry="15.5"/><ellipse cx="583.2" cy="1558.3" rx="19.6" ry="15.5"/><ellipse cx="581.2" cy="1574.2" rx="19.6" ry="15.5"/><ellipse cx="599.3" cy="1594.8" rx="19.6" ry="15.5"/><ellipse cx="610.6" cy="1606.2" rx="19.6" ry="15.5"/><ellipse cx="603.3" cy="1605.1" rx="19.6" ry="15.5"/><ellipse cx="600.4" cy="1602.1" rx="19.6" ry="15.5"/><ellipse cx="582.2" cy="1626" rx="19.6" ry="15.5"/><ellipse cx="581.3" cy="1641.7" rx="19.6" ry="15.5"/><ellipse cx="608.3" cy="1659.4" rx="19.6" ry="15.5"/><ellipse cx="615.1" cy="1658.8" rx="19.6" ry="15.5"/><ellipse cx="628.2" cy="1668" rx="19.6" ry="15.5"/><ellipse cx="619.2" cy="1666.8" rx="19.6" ry="15.5"/><ellipse cx="617.1" cy="1667.5" rx="19.6" ry="15.5"/><ellipse cx="607.5" cy="1686.9" rx="19.6" ry="15.5"/><ellipse cx="613.1" cy="1716.9" rx="19.6" ry="15.5"/><ellipse cx="615" cy="1713.6" rx="19.6" ry="15.5"/><ellipse cx="620.4" cy="1717.4" rx="19.6" ry="15.5"/><ellipse cx="604.9" cy="1721.3" rx="19.6" ry="15.5"/><ellipse cx="606.5" cy="1713.3" rx="19.6" ry="15.5"/><ellipse cx="593.9" cy="1702" rx="19.6" ry="15.5"/><ellipse cx="591.7" cy="1696.7" rx="19.6" ry="15.5"/><ellipse cx="575.4" cy="1675" rx="19.6" ry="15.5"/><ellipse cx="548.1" cy="1692.3" rx="19.6" ry="15.5"/><ellipse cx="544.2" cy="1700.6" rx="19.6" ry="15.5"/><ellipse cx="544.6" cy="1707.1" rx="19.6" ry="15.5"/><ellipse cx="529.3" cy="1702.4" rx="19.6" ry="15.5"/><ellipse cx="527.7" cy="1695.8" rx="19.6" ry="15.5"/><ellipse cx="530.6" cy="1699.4" rx="19.6" ry="15.5"/><ellipse cx="524.4" cy="1668.8" rx="19.6" ry="15.5"/><ellipse cx="513.6" cy="1658.3" rx="19.6" ry="15.5"/><ellipse cx="502.3" cy="1647" rx="19.6" ry="15.5"/><ellipse cx="501.2" cy="1649.7" rx="19.6" ry="15.5"/><ellipse cx="500.4" cy="1645.8" rx="19.6" ry="15.5"/><ellipse cx="514.2" cy="1617.1" rx="19.6" ry="15.5"/><ellipse cx="515.6" cy="1613" rx="19.6" ry="15.5"/><ellipse cx="490.7" cy="1592.2" rx="19.6" ry="15.5"/><ellipse cx="490.8" cy="1584.7" rx="19.6" ry="15.5"/><ellipse cx="489.3" cy="1581.2" rx="19.6" ry="15.5"/><ellipse cx="489.3" cy="1573.9" rx="19.6" ry="15.5"/><ellipse cx="495.4" cy="1544.2" rx="19.6" ry="15.5"/><ellipse cx="490.9" cy="1530.1" rx="19.6" ry="15.5"/><ellipse cx="490.4" cy="1526.1" rx="19.6" ry="15.5"/><ellipse cx="494.8" cy="1503.1" rx="19.6" ry="15.5"/><ellipse cx="494.8" cy="1488" rx="19.6" ry="15.5"/><ellipse cx="494.8" cy="1480.5" rx="19.6" ry="15.5"/><ellipse cx="504.2" cy="1464.6" rx="19.6" ry="15.5"/></g>
<text transform="translate(65,1654.4) scale(1.26,1) rotate(81.79)" x="0" y="0" font-family="DejaVu Sans" font-size="20.5" fill="#2a3f5f" text-anchor="middle" dominant-baseline="central" textLength="320" lengthAdjust="spacingAndGlyphs">PC3(4.4% var. explained)</text>
<text transform="translate(310.3,2016.2) scale(1.26,1) rotate(40.04)" x="0" y="0" font-family="DejaVu Sans" font-size="20.5" fill="#2a3f5f" text-anchor="middle" dominant-baseline="central" textLength="320" lengthAdjust="spacingAndGlyphs">PC2(11.0% var. explained)</text>
<text transform="translate(924.3,2063.8) scale(1.26,1) rotate(-40.15)" x="0" y="0" font-family="DejaVu Sans" font-size="20.5" fill="#2a3f5f" text-anchor="middle" dominant-baseline="central" textLength="319" lengthAdjust="spacingAndGlyphs">PC1(13.3% var. explained)</text>
<text transform="translate(108.4,1471.1) scale(1.26,1) rotate(-26.98)" x="0" y="0" font-family="DejaVu Sans" font-size="19" fill="#2a3f5f" text-anchor="middle" dominant-baseline="central" textLength="44" lengthAdjust="spacingAndGlyphs">0.05</text>
<text transform="translate(132.5,1619.8) scale(1.26,1) rotate(-26.98)" x="0" y="0" font-family="DejaVu Sans" font-size="21.5" fill="#2a3f5f" text-anchor="middle" dominant-baseline="central" textLength="13.5" lengthAdjust="spacingAndGlyphs">0</text>
<text transform="translate(154,1751.5) scale(1.26,1) rotate(-26.98)" x="0" y="0" font-family="DejaVu Sans" font-size="19.5" fill="#2a3f5f" text-anchor="middle" dominant-baseline="central" textLength="57" lengthAdjust="spacingAndGlyphs">−0.05</text>
<text transform="translate(274.4,1917.7) scale(1.26,1) rotate(-33.82)" x="0" y="0" font-family="DejaVu Sans" font-size="19.5" fill="#2a3f5f" text-anchor="middle" dominant-baseline="central" textLength="59" lengthAdjust="spacingAndGlyphs">−0.05</text>
<text transform="translate(406.5,2004.7) scale(1.26,1) rotate(-33.82)" x="0" y="0" font-family="DejaVu Sans" font-size="22" fill="#2a3f5f" text-anchor="middle" dominant-baseline="central" textLength="13.5" lengthAdjust="spacingAndGlyphs">0</text>
<text transform="translate(552.7,2100.8) scale(1.26,1) rotate(-33.82)" x="0" y="0" font-family="DejaVu Sans" font-size="19" fill="#2a3f5f" text-anchor="middle" dominant-baseline="central" textLength="44" lengthAdjust="spacingAndGlyphs">0.05</text>
<text transform="translate(977,1948) scale(1.26,1) rotate(33.82)" x="0" y="0" font-family="DejaVu Sans" font-size="19.5" fill="#2a3f5f" text-anchor="middle" dominant-baseline="central" textLength="57" lengthAdjust="spacingAndGlyphs">−0.05</text>
<text transform="translate(847.9,2033.4) scale(1.26,1) rotate(33.82)" x="0" y="0" font-family="DejaVu Sans" font-size="22" fill="#2a3f5f" text-anchor="middle" dominant-baseline="central" textLength="13.5" lengthAdjust="spacingAndGlyphs">0</text>
<text transform="translate(702.9,2129.5) scale(1.26,1) rotate(33.82)" x="0" y="0" font-family="DejaVu Sans" font-size="19" fill="#2a3f5f" text-anchor="middle" dominant-baseline="central" textLength="44" lengthAdjust="spacingAndGlyphs">0.05</text>
</svg>
</body></html>
